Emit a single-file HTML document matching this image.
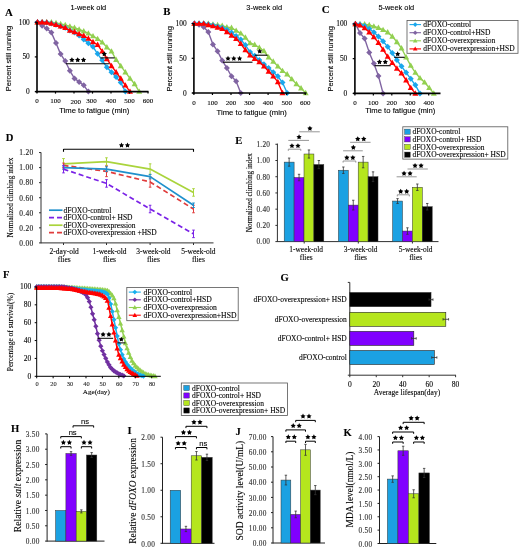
<!DOCTYPE html>
<html><head><meta charset="utf-8"><style>
html,body{margin:0;padding:0;background:#fff;width:520px;height:549px;overflow:hidden}
svg{display:block;filter:blur(0.3px)}
text{stroke:#000;stroke-width:0.18px;stroke-opacity:0.55}
</style></head><body>
<svg width="520" height="549" viewBox="0 0 520 549">
<rect width="520" height="549" fill="#fff"/>
<polyline points="37.5,22.2 42.12,22.2 46.75,22.2 51.38,22.2 56,22.89 60.62,23.94 65.25,24.98 69.88,26.36 74.5,27.75 79.12,29.49 83.75,31.22 88.38,33.3 93,36.08 97.62,38.86 102.25,42.33 106.88,47.18 111.5,51.35 116.12,59.68 120.75,65.92 125.38,72.17 130,78.41 134.62,83.97 139.25,91.6" stroke="#92d050" stroke-width="1.4" fill="none" stroke-linejoin="round"/>
<polygon points="37.5,19.05 40.5,24.45 34.5,24.45" fill="#92d050"/>
<polygon points="42.12,19.05 45.12,24.45 39.12,24.45" fill="#92d050"/>
<polygon points="46.75,19.05 49.75,24.45 43.75,24.45" fill="#92d050"/>
<polygon points="51.38,19.05 54.38,24.45 48.38,24.45" fill="#92d050"/>
<polygon points="56,19.74 59,25.14 53,25.14" fill="#92d050"/>
<polygon points="60.62,20.79 63.62,26.19 57.62,26.19" fill="#92d050"/>
<polygon points="65.25,21.83 68.25,27.23 62.25,27.23" fill="#92d050"/>
<polygon points="69.88,23.21 72.88,28.61 66.88,28.61" fill="#92d050"/>
<polygon points="74.5,24.6 77.5,30 71.5,30" fill="#92d050"/>
<polygon points="79.12,26.34 82.12,31.74 76.12,31.74" fill="#92d050"/>
<polygon points="83.75,28.07 86.75,33.47 80.75,33.47" fill="#92d050"/>
<polygon points="88.38,30.15 91.38,35.55 85.38,35.55" fill="#92d050"/>
<polygon points="93,32.93 96,38.33 90,38.33" fill="#92d050"/>
<polygon points="97.62,35.71 100.62,41.11 94.62,41.11" fill="#92d050"/>
<polygon points="102.25,39.18 105.25,44.58 99.25,44.58" fill="#92d050"/>
<polygon points="106.88,44.03 109.88,49.43 103.88,49.43" fill="#92d050"/>
<polygon points="111.5,48.2 114.5,53.6 108.5,53.6" fill="#92d050"/>
<polygon points="116.12,56.53 119.12,61.93 113.12,61.93" fill="#92d050"/>
<polygon points="120.75,62.77 123.75,68.17 117.75,68.17" fill="#92d050"/>
<polygon points="125.38,69.02 128.38,74.42 122.38,74.42" fill="#92d050"/>
<polygon points="130,75.26 133,80.66 127,80.66" fill="#92d050"/>
<polygon points="134.62,80.82 137.62,86.22 131.62,86.22" fill="#92d050"/>
<polygon points="139.25,88.45 142.25,93.85 136.25,93.85" fill="#92d050"/>
<polyline points="37.5,22.2 42.12,22.2 46.75,22.48 51.38,23.59 56,24.63 60.62,26.36 65.25,27.75 69.88,30.53 74.5,32.61 79.12,35.39 83.75,39.55 88.38,43.37 93,46.84 97.62,53.78 102.25,60.37 106.88,67.31 111.5,72.17 116.12,77.03 120.75,82.58 125.38,91.6" stroke="#1aa7ec" stroke-width="1.4" fill="none" stroke-linejoin="round"/>
<polygon points="37.5,19.2 40.5,22.2 37.5,25.2 34.5,22.2" fill="#1aa7ec"/>
<polygon points="42.12,19.2 45.12,22.2 42.12,25.2 39.12,22.2" fill="#1aa7ec"/>
<polygon points="46.75,19.48 49.75,22.48 46.75,25.48 43.75,22.48" fill="#1aa7ec"/>
<polygon points="51.38,20.59 54.38,23.59 51.38,26.59 48.38,23.59" fill="#1aa7ec"/>
<polygon points="56,21.63 59,24.63 56,27.63 53,24.63" fill="#1aa7ec"/>
<polygon points="60.62,23.36 63.62,26.36 60.62,29.36 57.62,26.36" fill="#1aa7ec"/>
<polygon points="65.25,24.75 68.25,27.75 65.25,30.75 62.25,27.75" fill="#1aa7ec"/>
<polygon points="69.88,27.53 72.88,30.53 69.88,33.53 66.88,30.53" fill="#1aa7ec"/>
<polygon points="74.5,29.61 77.5,32.61 74.5,35.61 71.5,32.61" fill="#1aa7ec"/>
<polygon points="79.12,32.39 82.12,35.39 79.12,38.39 76.12,35.39" fill="#1aa7ec"/>
<polygon points="83.75,36.55 86.75,39.55 83.75,42.55 80.75,39.55" fill="#1aa7ec"/>
<polygon points="88.38,40.37 91.38,43.37 88.38,46.37 85.38,43.37" fill="#1aa7ec"/>
<polygon points="93,43.84 96,46.84 93,49.84 90,46.84" fill="#1aa7ec"/>
<polygon points="97.62,50.78 100.62,53.78 97.62,56.78 94.62,53.78" fill="#1aa7ec"/>
<polygon points="102.25,57.37 105.25,60.37 102.25,63.37 99.25,60.37" fill="#1aa7ec"/>
<polygon points="106.88,64.31 109.88,67.31 106.88,70.31 103.88,67.31" fill="#1aa7ec"/>
<polygon points="111.5,69.17 114.5,72.17 111.5,75.17 108.5,72.17" fill="#1aa7ec"/>
<polygon points="116.12,74.03 119.12,77.03 116.12,80.03 113.12,77.03" fill="#1aa7ec"/>
<polygon points="120.75,79.58 123.75,82.58 120.75,85.58 117.75,82.58" fill="#1aa7ec"/>
<polygon points="125.38,88.6 128.38,91.6 125.38,94.6 122.38,91.6" fill="#1aa7ec"/>
<polyline points="37.5,22.2 42.12,25.67 46.75,28.45 51.38,32.61 56,43.02 60.62,54.12 65.25,61.06 69.88,70.78 74.5,78.41 79.12,81.88 83.75,85.35 88.38,91.6" stroke="#8064a2" stroke-width="1.4" fill="none" stroke-linejoin="round"/>
<polygon points="37.5,19.2 40.5,22.2 37.5,25.2 34.5,22.2" fill="#8064a2"/>
<polygon points="42.12,22.67 45.12,25.67 42.12,28.67 39.12,25.67" fill="#8064a2"/>
<polygon points="46.75,25.45 49.75,28.45 46.75,31.45 43.75,28.45" fill="#8064a2"/>
<polygon points="51.38,29.61 54.38,32.61 51.38,35.61 48.38,32.61" fill="#8064a2"/>
<polygon points="56,40.02 59,43.02 56,46.02 53,43.02" fill="#8064a2"/>
<polygon points="60.62,51.12 63.62,54.12 60.62,57.12 57.62,54.12" fill="#8064a2"/>
<polygon points="65.25,58.06 68.25,61.06 65.25,64.06 62.25,61.06" fill="#8064a2"/>
<polygon points="69.88,67.78 72.88,70.78 69.88,73.78 66.88,70.78" fill="#8064a2"/>
<polygon points="74.5,75.41 77.5,78.41 74.5,81.41 71.5,78.41" fill="#8064a2"/>
<polygon points="79.12,78.88 82.12,81.88 79.12,84.88 76.12,81.88" fill="#8064a2"/>
<polygon points="83.75,82.35 86.75,85.35 83.75,88.35 80.75,85.35" fill="#8064a2"/>
<polygon points="88.38,88.6 91.38,91.6 88.38,94.6 85.38,91.6" fill="#8064a2"/>
<polyline points="37.5,22.2 42.12,22.2 46.75,22.48 51.38,23.59 56,24.63 60.62,26.36 65.25,27.75 69.88,30.53 74.5,31.92 79.12,34 83.75,35.73 88.38,38.51 93,41.98 97.62,44.75 102.25,51.35 106.88,58.98 111.5,65.92 116.12,72.17 120.75,78.41 125.38,85.35 130,91.6" stroke="#ff0000" stroke-width="1.4" fill="none" stroke-linejoin="round"/>
<polygon points="37.5,19.05 40.5,24.45 34.5,24.45" fill="#ff0000"/>
<polygon points="42.12,19.05 45.12,24.45 39.12,24.45" fill="#ff0000"/>
<polygon points="46.75,19.33 49.75,24.73 43.75,24.73" fill="#ff0000"/>
<polygon points="51.38,20.44 54.38,25.84 48.38,25.84" fill="#ff0000"/>
<polygon points="56,21.48 59,26.88 53,26.88" fill="#ff0000"/>
<polygon points="60.62,23.21 63.62,28.61 57.62,28.61" fill="#ff0000"/>
<polygon points="65.25,24.6 68.25,30 62.25,30" fill="#ff0000"/>
<polygon points="69.88,27.38 72.88,32.78 66.88,32.78" fill="#ff0000"/>
<polygon points="74.5,28.77 77.5,34.17 71.5,34.17" fill="#ff0000"/>
<polygon points="79.12,30.85 82.12,36.25 76.12,36.25" fill="#ff0000"/>
<polygon points="83.75,32.58 86.75,37.98 80.75,37.98" fill="#ff0000"/>
<polygon points="88.38,35.36 91.38,40.76 85.38,40.76" fill="#ff0000"/>
<polygon points="93,38.83 96,44.23 90,44.23" fill="#ff0000"/>
<polygon points="97.62,41.6 100.62,47 94.62,47" fill="#ff0000"/>
<polygon points="102.25,48.2 105.25,53.6 99.25,53.6" fill="#ff0000"/>
<polygon points="106.88,55.83 109.88,61.23 103.88,61.23" fill="#ff0000"/>
<polygon points="111.5,62.77 114.5,68.17 108.5,68.17" fill="#ff0000"/>
<polygon points="116.12,69.02 119.12,74.42 113.12,74.42" fill="#ff0000"/>
<polygon points="120.75,75.26 123.75,80.66 117.75,80.66" fill="#ff0000"/>
<polygon points="125.38,82.2 128.38,87.6 122.38,87.6" fill="#ff0000"/>
<polygon points="130,88.45 133,93.85 127,93.85" fill="#ff0000"/>
<line x1="37" y1="21.7" x2="37" y2="92.4" stroke="#000" stroke-width="1.6"/>
<line x1="35.5" y1="91.6" x2="148.5" y2="91.6" stroke="#000" stroke-width="1.6"/>
<line x1="34.8" y1="22.2" x2="37" y2="22.2" stroke="#000" stroke-width="1.2"/>
<text x="29.8" y="24.7" font-size="7.4" font-family='"Liberation Serif", serif' fill="#000" text-anchor="end">100</text>
<line x1="34.8" y1="56.9" x2="37" y2="56.9" stroke="#000" stroke-width="1.2"/>
<text x="29.8" y="59.4" font-size="7.4" font-family='"Liberation Serif", serif' fill="#000" text-anchor="end">50</text>
<line x1="34.8" y1="91.6" x2="37" y2="91.6" stroke="#000" stroke-width="1.2"/>
<text x="29.8" y="94.1" font-size="7.4" font-family='"Liberation Serif", serif' fill="#000" text-anchor="end">0</text>
<line x1="37" y1="91.6" x2="37" y2="93.6" stroke="#000" stroke-width="1.2"/>
<text x="37" y="103.1" font-size="7" font-family='"Liberation Serif", serif' fill="#000" text-anchor="middle">0</text>
<line x1="55.5" y1="91.6" x2="55.5" y2="93.6" stroke="#000" stroke-width="1.2"/>
<text x="55.5" y="103.1" font-size="7" font-family='"Liberation Serif", serif' fill="#000" text-anchor="middle">100</text>
<line x1="74" y1="91.6" x2="74" y2="93.6" stroke="#000" stroke-width="1.2"/>
<text x="75.8" y="103.7" font-size="7" font-family='"Liberation Serif", serif' fill="#000" text-anchor="middle">200</text>
<line x1="92.5" y1="91.6" x2="92.5" y2="93.6" stroke="#000" stroke-width="1.2"/>
<text x="91.5" y="103.1" font-size="7" font-family='"Liberation Serif", serif' fill="#000" text-anchor="middle">300</text>
<line x1="111" y1="91.6" x2="111" y2="93.6" stroke="#000" stroke-width="1.2"/>
<text x="111" y="103.1" font-size="7" font-family='"Liberation Serif", serif' fill="#000" text-anchor="middle">400</text>
<line x1="129.5" y1="91.6" x2="129.5" y2="93.6" stroke="#000" stroke-width="1.2"/>
<text x="129.5" y="103.1" font-size="7" font-family='"Liberation Serif", serif' fill="#000" text-anchor="middle">500</text>
<line x1="148" y1="91.6" x2="148" y2="93.6" stroke="#000" stroke-width="1.2"/>
<text x="148" y="103.1" font-size="7" font-family='"Liberation Serif", serif' fill="#000" text-anchor="middle">600</text>
<text x="94.25" y="113" font-size="7.7" font-family='"Liberation Sans", sans-serif' fill="#000" text-anchor="middle">Time to fatigue (min)</text>
<text x="10.6" y="58.5" font-size="7.45" font-family='"Liberation Sans", sans-serif' fill="#000" text-anchor="middle" transform="rotate(-90 10.6 58.5)">Percent still running</text>
<text x="4.9" y="15.7" font-size="10.8" font-family='"Liberation Serif", serif' fill="#000" font-weight="bold">A</text>
<text x="88.3" y="9.9" font-size="7.4" font-family='"Liberation Sans", sans-serif' fill="#000" text-anchor="middle">1-week old</text>
<line x1="65.8" y1="63.8" x2="109.4" y2="63.8" stroke="#000" stroke-width="1.1"/>
<polygon points="71.9,57.25 72.74,58.84 74.52,59.15 73.26,60.44 73.52,62.22 71.9,61.43 70.28,62.22 70.54,60.44 69.28,59.15 71.06,58.84" fill="#000"/>
<polygon points="77.7,57.25 78.54,58.84 80.32,59.15 79.06,60.44 79.32,62.22 77.7,61.43 76.08,62.22 76.34,60.44 75.08,59.15 76.86,58.84" fill="#000"/>
<polygon points="83.5,57.25 84.34,58.84 86.12,59.15 84.86,60.44 85.12,62.22 83.5,61.43 81.88,62.22 82.14,60.44 80.88,59.15 82.66,58.84" fill="#000"/>
<line x1="100.5" y1="57.9" x2="114.7" y2="57.9" stroke="#000" stroke-width="1.1"/>
<polygon points="104.3,51.25 105.14,52.84 106.92,53.15 105.66,54.44 105.92,56.22 104.3,55.43 102.68,56.22 102.94,54.44 101.68,53.15 103.46,52.84" fill="#000"/>
<polyline points="194.4,23.6 199.04,23.6 203.68,23.6 208.31,23.6 212.95,24.29 217.59,24.99 222.22,25.68 226.86,27.07 231.5,27.76 236.14,30.54 240.78,33.32 245.41,37.48 250.05,43.03 254.69,44.77 259.32,47.54 263.96,51.01 268.6,57.26 273.24,61.42 277.88,66.28 282.51,70.79 287.15,74.26 291.79,79.12 296.43,83.98 301.06,88.14 305.7,93" stroke="#92d050" stroke-width="1.4" fill="none" stroke-linejoin="round"/>
<polygon points="194.4,20.45 197.4,25.85 191.4,25.85" fill="#92d050"/>
<polygon points="199.04,20.45 202.04,25.85 196.04,25.85" fill="#92d050"/>
<polygon points="203.68,20.45 206.68,25.85 200.68,25.85" fill="#92d050"/>
<polygon points="208.31,20.45 211.31,25.85 205.31,25.85" fill="#92d050"/>
<polygon points="212.95,21.14 215.95,26.54 209.95,26.54" fill="#92d050"/>
<polygon points="217.59,21.84 220.59,27.24 214.59,27.24" fill="#92d050"/>
<polygon points="222.22,22.53 225.22,27.93 219.22,27.93" fill="#92d050"/>
<polygon points="226.86,23.92 229.86,29.32 223.86,29.32" fill="#92d050"/>
<polygon points="231.5,24.61 234.5,30.01 228.5,30.01" fill="#92d050"/>
<polygon points="236.14,27.39 239.14,32.79 233.14,32.79" fill="#92d050"/>
<polygon points="240.78,30.17 243.78,35.57 237.78,35.57" fill="#92d050"/>
<polygon points="245.41,34.33 248.41,39.73 242.41,39.73" fill="#92d050"/>
<polygon points="250.05,39.88 253.05,45.28 247.05,45.28" fill="#92d050"/>
<polygon points="254.69,41.62 257.69,47.02 251.69,47.02" fill="#92d050"/>
<polygon points="259.32,44.39 262.32,49.79 256.32,49.79" fill="#92d050"/>
<polygon points="263.96,47.86 266.96,53.26 260.96,53.26" fill="#92d050"/>
<polygon points="268.6,54.11 271.6,59.51 265.6,59.51" fill="#92d050"/>
<polygon points="273.24,58.27 276.24,63.67 270.24,63.67" fill="#92d050"/>
<polygon points="277.88,63.13 280.88,68.53 274.88,68.53" fill="#92d050"/>
<polygon points="282.51,67.64 285.51,73.04 279.51,73.04" fill="#92d050"/>
<polygon points="287.15,71.11 290.15,76.51 284.15,76.51" fill="#92d050"/>
<polygon points="291.79,75.97 294.79,81.37 288.79,81.37" fill="#92d050"/>
<polygon points="296.43,80.83 299.43,86.23 293.43,86.23" fill="#92d050"/>
<polygon points="301.06,84.99 304.06,90.39 298.06,90.39" fill="#92d050"/>
<polygon points="305.7,89.85 308.7,95.25 302.7,95.25" fill="#92d050"/>
<polyline points="194.4,23.6 199.04,23.6 203.68,23.6 208.31,24.29 212.95,25.33 217.59,26.38 222.22,27.76 226.86,29.85 231.5,32.62 236.14,36.09 240.78,39.56 245.41,45.11 250.05,52.05 254.69,55.87 259.32,60.03 263.96,64.2 268.6,68.02 273.24,72.18 277.88,76.34 282.51,82.59 287.15,93" stroke="#1aa7ec" stroke-width="1.4" fill="none" stroke-linejoin="round"/>
<polygon points="194.4,20.6 197.4,23.6 194.4,26.6 191.4,23.6" fill="#1aa7ec"/>
<polygon points="199.04,20.6 202.04,23.6 199.04,26.6 196.04,23.6" fill="#1aa7ec"/>
<polygon points="203.68,20.6 206.68,23.6 203.68,26.6 200.68,23.6" fill="#1aa7ec"/>
<polygon points="208.31,21.29 211.31,24.29 208.31,27.29 205.31,24.29" fill="#1aa7ec"/>
<polygon points="212.95,22.33 215.95,25.33 212.95,28.33 209.95,25.33" fill="#1aa7ec"/>
<polygon points="217.59,23.38 220.59,26.38 217.59,29.38 214.59,26.38" fill="#1aa7ec"/>
<polygon points="222.22,24.76 225.22,27.76 222.22,30.76 219.22,27.76" fill="#1aa7ec"/>
<polygon points="226.86,26.85 229.86,29.85 226.86,32.85 223.86,29.85" fill="#1aa7ec"/>
<polygon points="231.5,29.62 234.5,32.62 231.5,35.62 228.5,32.62" fill="#1aa7ec"/>
<polygon points="236.14,33.09 239.14,36.09 236.14,39.09 233.14,36.09" fill="#1aa7ec"/>
<polygon points="240.78,36.56 243.78,39.56 240.78,42.56 237.78,39.56" fill="#1aa7ec"/>
<polygon points="245.41,42.11 248.41,45.11 245.41,48.11 242.41,45.11" fill="#1aa7ec"/>
<polygon points="250.05,49.05 253.05,52.05 250.05,55.05 247.05,52.05" fill="#1aa7ec"/>
<polygon points="254.69,52.87 257.69,55.87 254.69,58.87 251.69,55.87" fill="#1aa7ec"/>
<polygon points="259.32,57.03 262.32,60.03 259.32,63.03 256.32,60.03" fill="#1aa7ec"/>
<polygon points="263.96,61.2 266.96,64.2 263.96,67.2 260.96,64.2" fill="#1aa7ec"/>
<polygon points="268.6,65.02 271.6,68.02 268.6,71.02 265.6,68.02" fill="#1aa7ec"/>
<polygon points="273.24,69.18 276.24,72.18 273.24,75.18 270.24,72.18" fill="#1aa7ec"/>
<polygon points="277.88,73.34 280.88,76.34 277.88,79.34 274.88,76.34" fill="#1aa7ec"/>
<polygon points="282.51,79.59 285.51,82.59 282.51,85.59 279.51,82.59" fill="#1aa7ec"/>
<polygon points="287.15,90 290.15,93 287.15,96 284.15,93" fill="#1aa7ec"/>
<polyline points="194.4,23.6 199.04,24.64 203.68,27.07 208.31,31.93 212.95,44.42 217.59,51.36 222.22,60.38 226.86,68.02 231.5,76.34 236.14,81.2 240.78,93" stroke="#8064a2" stroke-width="1.4" fill="none" stroke-linejoin="round"/>
<polygon points="194.4,20.6 197.4,23.6 194.4,26.6 191.4,23.6" fill="#8064a2"/>
<polygon points="199.04,21.64 202.04,24.64 199.04,27.64 196.04,24.64" fill="#8064a2"/>
<polygon points="203.68,24.07 206.68,27.07 203.68,30.07 200.68,27.07" fill="#8064a2"/>
<polygon points="208.31,28.93 211.31,31.93 208.31,34.93 205.31,31.93" fill="#8064a2"/>
<polygon points="212.95,41.42 215.95,44.42 212.95,47.42 209.95,44.42" fill="#8064a2"/>
<polygon points="217.59,48.36 220.59,51.36 217.59,54.36 214.59,51.36" fill="#8064a2"/>
<polygon points="222.22,57.38 225.22,60.38 222.22,63.38 219.22,60.38" fill="#8064a2"/>
<polygon points="226.86,65.02 229.86,68.02 226.86,71.02 223.86,68.02" fill="#8064a2"/>
<polygon points="231.5,73.34 234.5,76.34 231.5,79.34 228.5,76.34" fill="#8064a2"/>
<polygon points="236.14,78.2 239.14,81.2 236.14,84.2 233.14,81.2" fill="#8064a2"/>
<polygon points="240.78,90 243.78,93 240.78,96 237.78,93" fill="#8064a2"/>
<polyline points="194.4,23.6 199.04,23.6 203.68,23.6 208.31,24.99 212.95,26.03 217.59,27.42 222.22,28.8 226.86,31.93 231.5,35.4 236.14,38.87 240.78,43.73 245.41,49.97 250.05,55.18 254.69,58.65 259.32,62.12 263.96,66.28 268.6,71.49 273.24,76.34 277.88,81.9 282.51,93" stroke="#ff0000" stroke-width="1.4" fill="none" stroke-linejoin="round"/>
<polygon points="194.4,20.45 197.4,25.85 191.4,25.85" fill="#ff0000"/>
<polygon points="199.04,20.45 202.04,25.85 196.04,25.85" fill="#ff0000"/>
<polygon points="203.68,20.45 206.68,25.85 200.68,25.85" fill="#ff0000"/>
<polygon points="208.31,21.84 211.31,27.24 205.31,27.24" fill="#ff0000"/>
<polygon points="212.95,22.88 215.95,28.28 209.95,28.28" fill="#ff0000"/>
<polygon points="217.59,24.27 220.59,29.67 214.59,29.67" fill="#ff0000"/>
<polygon points="222.22,25.65 225.22,31.05 219.22,31.05" fill="#ff0000"/>
<polygon points="226.86,28.78 229.86,34.18 223.86,34.18" fill="#ff0000"/>
<polygon points="231.5,32.25 234.5,37.65 228.5,37.65" fill="#ff0000"/>
<polygon points="236.14,35.72 239.14,41.12 233.14,41.12" fill="#ff0000"/>
<polygon points="240.78,40.58 243.78,45.98 237.78,45.98" fill="#ff0000"/>
<polygon points="245.41,46.82 248.41,52.22 242.41,52.22" fill="#ff0000"/>
<polygon points="250.05,52.03 253.05,57.43 247.05,57.43" fill="#ff0000"/>
<polygon points="254.69,55.5 257.69,60.9 251.69,60.9" fill="#ff0000"/>
<polygon points="259.32,58.97 262.32,64.37 256.32,64.37" fill="#ff0000"/>
<polygon points="263.96,63.13 266.96,68.53 260.96,68.53" fill="#ff0000"/>
<polygon points="268.6,68.34 271.6,73.74 265.6,73.74" fill="#ff0000"/>
<polygon points="273.24,73.19 276.24,78.59 270.24,78.59" fill="#ff0000"/>
<polygon points="277.88,78.75 280.88,84.15 274.88,84.15" fill="#ff0000"/>
<polygon points="282.51,89.85 285.51,95.25 279.51,95.25" fill="#ff0000"/>
<line x1="193.9" y1="23.1" x2="193.9" y2="93.8" stroke="#000" stroke-width="1.6"/>
<line x1="192.4" y1="93" x2="306.5" y2="93" stroke="#000" stroke-width="1.6"/>
<line x1="191.7" y1="23.6" x2="193.9" y2="23.6" stroke="#000" stroke-width="1.2"/>
<text x="186.7" y="26.1" font-size="7.4" font-family='"Liberation Serif", serif' fill="#000" text-anchor="end">100</text>
<line x1="191.7" y1="58.3" x2="193.9" y2="58.3" stroke="#000" stroke-width="1.2"/>
<text x="186.7" y="60.8" font-size="7.4" font-family='"Liberation Serif", serif' fill="#000" text-anchor="end">50</text>
<line x1="191.7" y1="93" x2="193.9" y2="93" stroke="#000" stroke-width="1.2"/>
<text x="186.7" y="95.5" font-size="7.4" font-family='"Liberation Serif", serif' fill="#000" text-anchor="end">0</text>
<line x1="193.9" y1="93" x2="193.9" y2="95" stroke="#000" stroke-width="1.2"/>
<text x="193.9" y="104.6" font-size="7" font-family='"Liberation Serif", serif' fill="#000" text-anchor="middle">0</text>
<line x1="212.45" y1="93" x2="212.45" y2="95" stroke="#000" stroke-width="1.2"/>
<text x="212.45" y="104.6" font-size="7" font-family='"Liberation Serif", serif' fill="#000" text-anchor="middle">100</text>
<line x1="231" y1="93" x2="231" y2="95" stroke="#000" stroke-width="1.2"/>
<text x="231" y="104.6" font-size="7" font-family='"Liberation Serif", serif' fill="#000" text-anchor="middle">200</text>
<line x1="249.55" y1="93" x2="249.55" y2="95" stroke="#000" stroke-width="1.2"/>
<text x="249.55" y="104.6" font-size="7" font-family='"Liberation Serif", serif' fill="#000" text-anchor="middle">300</text>
<line x1="268.1" y1="93" x2="268.1" y2="95" stroke="#000" stroke-width="1.2"/>
<text x="268.1" y="104.6" font-size="7" font-family='"Liberation Serif", serif' fill="#000" text-anchor="middle">400</text>
<line x1="286.65" y1="93" x2="286.65" y2="95" stroke="#000" stroke-width="1.2"/>
<text x="286.65" y="104.6" font-size="7" font-family='"Liberation Serif", serif' fill="#000" text-anchor="middle">500</text>
<line x1="305.2" y1="93" x2="305.2" y2="95" stroke="#000" stroke-width="1.2"/>
<text x="305.2" y="104.6" font-size="7" font-family='"Liberation Serif", serif' fill="#000" text-anchor="middle">600</text>
<text x="251.7" y="115.2" font-size="7.7" font-family='"Liberation Sans", sans-serif' fill="#000" text-anchor="middle">Time to fatigue (min)</text>
<text x="171.8" y="58.8" font-size="7.45" font-family='"Liberation Sans", sans-serif' fill="#000" text-anchor="middle" transform="rotate(-90 171.8 58.8)">Percent still running</text>
<text x="163.3" y="14.8" font-size="10.8" font-family='"Liberation Serif", serif' fill="#000" font-weight="bold">B</text>
<text x="264.2" y="9.9" font-size="7.4" font-family='"Liberation Sans", sans-serif' fill="#000" text-anchor="middle">3-week old</text>
<line x1="223" y1="62.2" x2="252.5" y2="62.2" stroke="#000" stroke-width="1.1"/>
<polygon points="228,55.85 228.84,57.44 230.62,57.75 229.36,59.04 229.62,60.82 228,60.03 226.38,60.82 226.64,59.04 225.38,57.75 227.16,57.44" fill="#000"/>
<polygon points="233.8,55.85 234.64,57.44 236.42,57.75 235.16,59.04 235.42,60.82 233.8,60.03 232.18,60.82 232.44,59.04 231.18,57.75 232.96,57.44" fill="#000"/>
<polygon points="239.6,55.85 240.44,57.44 242.22,57.75 240.96,59.04 241.22,60.82 239.6,60.03 237.98,60.82 238.24,59.04 236.98,57.75 238.76,57.44" fill="#000"/>
<line x1="254.8" y1="55.2" x2="267.5" y2="55.2" stroke="#000" stroke-width="1.1"/>
<polygon points="259.7,48.65 260.54,50.24 262.32,50.55 261.06,51.84 261.32,53.62 259.7,52.83 258.08,53.62 258.34,51.84 257.08,50.55 258.86,50.24" fill="#000"/>
<polyline points="355.4,23.9 360.01,23.9 364.62,24.25 369.24,24.94 373.85,26.33 378.46,27.72 383.07,29.81 387.69,32.24 392.3,36.41 396.91,41.97 401.52,48.23 406.14,57.26 410.75,65.6 415.36,72.55 419.97,78.11 424.59,82.28 429.2,87.84 433.81,93.4" stroke="#92d050" stroke-width="1.4" fill="none" stroke-linejoin="round"/>
<polygon points="355.4,20.75 358.4,26.15 352.4,26.15" fill="#92d050"/>
<polygon points="360.01,20.75 363.01,26.15 357.01,26.15" fill="#92d050"/>
<polygon points="364.62,21.1 367.62,26.5 361.62,26.5" fill="#92d050"/>
<polygon points="369.24,21.79 372.24,27.19 366.24,27.19" fill="#92d050"/>
<polygon points="373.85,23.18 376.85,28.58 370.85,28.58" fill="#92d050"/>
<polygon points="378.46,24.57 381.46,29.97 375.46,29.97" fill="#92d050"/>
<polygon points="383.07,26.66 386.07,32.06 380.07,32.06" fill="#92d050"/>
<polygon points="387.69,29.09 390.69,34.49 384.69,34.49" fill="#92d050"/>
<polygon points="392.3,33.26 395.3,38.66 389.3,38.66" fill="#92d050"/>
<polygon points="396.91,38.82 399.91,44.22 393.91,44.22" fill="#92d050"/>
<polygon points="401.52,45.08 404.52,50.48 398.52,50.48" fill="#92d050"/>
<polygon points="406.14,54.11 409.14,59.51 403.14,59.51" fill="#92d050"/>
<polygon points="410.75,62.45 413.75,67.85 407.75,67.85" fill="#92d050"/>
<polygon points="415.36,69.4 418.36,74.8 412.36,74.8" fill="#92d050"/>
<polygon points="419.97,74.96 422.97,80.36 416.97,80.36" fill="#92d050"/>
<polygon points="424.59,79.13 427.59,84.53 421.59,84.53" fill="#92d050"/>
<polygon points="429.2,84.69 432.2,90.09 426.2,90.09" fill="#92d050"/>
<polygon points="433.81,90.25 436.81,95.65 430.81,95.65" fill="#92d050"/>
<polyline points="355.4,23.9 360.01,24.6 364.62,25.99 369.24,28.77 373.85,32.24 378.46,36.41 383.07,41.28 387.69,46.84 392.3,53.09 396.91,60.04 401.52,66.3 406.14,72.55 410.75,78.81 415.36,85.06 419.97,93.4" stroke="#1aa7ec" stroke-width="1.4" fill="none" stroke-linejoin="round"/>
<polygon points="355.4,20.9 358.4,23.9 355.4,26.9 352.4,23.9" fill="#1aa7ec"/>
<polygon points="360.01,21.6 363.01,24.6 360.01,27.6 357.01,24.6" fill="#1aa7ec"/>
<polygon points="364.62,22.99 367.62,25.99 364.62,28.99 361.62,25.99" fill="#1aa7ec"/>
<polygon points="369.24,25.77 372.24,28.77 369.24,31.77 366.24,28.77" fill="#1aa7ec"/>
<polygon points="373.85,29.24 376.85,32.24 373.85,35.24 370.85,32.24" fill="#1aa7ec"/>
<polygon points="378.46,33.41 381.46,36.41 378.46,39.41 375.46,36.41" fill="#1aa7ec"/>
<polygon points="383.07,38.28 386.07,41.28 383.07,44.28 380.07,41.28" fill="#1aa7ec"/>
<polygon points="387.69,43.84 390.69,46.84 387.69,49.84 384.69,46.84" fill="#1aa7ec"/>
<polygon points="392.3,50.09 395.3,53.09 392.3,56.09 389.3,53.09" fill="#1aa7ec"/>
<polygon points="396.91,57.04 399.91,60.04 396.91,63.04 393.91,60.04" fill="#1aa7ec"/>
<polygon points="401.52,63.3 404.52,66.3 401.52,69.3 398.52,66.3" fill="#1aa7ec"/>
<polygon points="406.14,69.55 409.14,72.55 406.14,75.55 403.14,72.55" fill="#1aa7ec"/>
<polygon points="410.75,75.81 413.75,78.81 410.75,81.81 407.75,78.81" fill="#1aa7ec"/>
<polygon points="415.36,82.06 418.36,85.06 415.36,88.06 412.36,85.06" fill="#1aa7ec"/>
<polygon points="419.97,90.4 422.97,93.4 419.97,96.4 416.97,93.4" fill="#1aa7ec"/>
<polyline points="355.4,23.9 360.01,32.94 364.62,38.5 369.24,52.4 373.85,63.52 378.46,76.03 383.07,93.4" stroke="#8064a2" stroke-width="1.4" fill="none" stroke-linejoin="round"/>
<polygon points="355.4,20.9 358.4,23.9 355.4,26.9 352.4,23.9" fill="#8064a2"/>
<polygon points="360.01,29.94 363.01,32.94 360.01,35.94 357.01,32.94" fill="#8064a2"/>
<polygon points="364.62,35.5 367.62,38.5 364.62,41.5 361.62,38.5" fill="#8064a2"/>
<polygon points="369.24,49.4 372.24,52.4 369.24,55.4 366.24,52.4" fill="#8064a2"/>
<polygon points="373.85,60.52 376.85,63.52 373.85,66.52 370.85,63.52" fill="#8064a2"/>
<polygon points="378.46,73.03 381.46,76.03 378.46,79.03 375.46,76.03" fill="#8064a2"/>
<polygon points="383.07,90.4 386.07,93.4 383.07,96.4 380.07,93.4" fill="#8064a2"/>
<polyline points="355.4,23.9 360.01,25.29 364.62,28.07 369.24,32.24 373.85,37.11 378.46,42.67 383.07,49.62 387.69,56.57 392.3,62.82 396.91,68.38 401.52,73.25 406.14,80.2 410.75,87.84 415.36,93.4" stroke="#ff0000" stroke-width="1.4" fill="none" stroke-linejoin="round"/>
<polygon points="355.4,20.75 358.4,26.15 352.4,26.15" fill="#ff0000"/>
<polygon points="360.01,22.14 363.01,27.54 357.01,27.54" fill="#ff0000"/>
<polygon points="364.62,24.92 367.62,30.32 361.62,30.32" fill="#ff0000"/>
<polygon points="369.24,29.09 372.24,34.49 366.24,34.49" fill="#ff0000"/>
<polygon points="373.85,33.96 376.85,39.36 370.85,39.36" fill="#ff0000"/>
<polygon points="378.46,39.52 381.46,44.92 375.46,44.92" fill="#ff0000"/>
<polygon points="383.07,46.47 386.07,51.87 380.07,51.87" fill="#ff0000"/>
<polygon points="387.69,53.42 390.69,58.82 384.69,58.82" fill="#ff0000"/>
<polygon points="392.3,59.67 395.3,65.07 389.3,65.07" fill="#ff0000"/>
<polygon points="396.91,65.23 399.91,70.63 393.91,70.63" fill="#ff0000"/>
<polygon points="401.52,70.09 404.52,75.5 398.52,75.5" fill="#ff0000"/>
<polygon points="406.14,77.05 409.14,82.45 403.14,82.45" fill="#ff0000"/>
<polygon points="410.75,84.69 413.75,90.09 407.75,90.09" fill="#ff0000"/>
<polygon points="415.36,90.25 418.36,95.65 412.36,95.65" fill="#ff0000"/>
<line x1="354.9" y1="23.4" x2="354.9" y2="94.2" stroke="#000" stroke-width="1.6"/>
<line x1="353.4" y1="93.4" x2="440.5" y2="93.4" stroke="#000" stroke-width="1.6"/>
<line x1="352.7" y1="23.9" x2="354.9" y2="23.9" stroke="#000" stroke-width="1.2"/>
<text x="347.3" y="26.4" font-size="7.4" font-family='"Liberation Serif", serif' fill="#000" text-anchor="end">100</text>
<line x1="352.7" y1="58.65" x2="354.9" y2="58.65" stroke="#000" stroke-width="1.2"/>
<text x="347.3" y="61.15" font-size="7.4" font-family='"Liberation Serif", serif' fill="#000" text-anchor="end">50</text>
<line x1="352.7" y1="93.4" x2="354.9" y2="93.4" stroke="#000" stroke-width="1.2"/>
<text x="347.3" y="95.9" font-size="7.4" font-family='"Liberation Serif", serif' fill="#000" text-anchor="end">0</text>
<line x1="354.9" y1="93.4" x2="354.9" y2="95.4" stroke="#000" stroke-width="1.2"/>
<text x="354.9" y="104.9" font-size="7" font-family='"Liberation Serif", serif' fill="#000" text-anchor="middle">0</text>
<line x1="373.35" y1="93.4" x2="373.35" y2="95.4" stroke="#000" stroke-width="1.2"/>
<text x="373.35" y="104.9" font-size="7" font-family='"Liberation Serif", serif' fill="#000" text-anchor="middle">100</text>
<line x1="391.8" y1="93.4" x2="391.8" y2="95.4" stroke="#000" stroke-width="1.2"/>
<text x="391.8" y="104.9" font-size="7" font-family='"Liberation Serif", serif' fill="#000" text-anchor="middle">200</text>
<line x1="410.25" y1="93.4" x2="410.25" y2="95.4" stroke="#000" stroke-width="1.2"/>
<text x="410.25" y="104.9" font-size="7" font-family='"Liberation Serif", serif' fill="#000" text-anchor="middle">300</text>
<line x1="428.7" y1="93.4" x2="428.7" y2="95.4" stroke="#000" stroke-width="1.2"/>
<text x="428.7" y="104.9" font-size="7" font-family='"Liberation Serif", serif' fill="#000" text-anchor="middle">400</text>
<text x="400.3" y="113.2" font-size="7.7" font-family='"Liberation Sans", sans-serif' fill="#000" text-anchor="middle">Time to fatigue (min)</text>
<text x="332.6" y="58.8" font-size="7.45" font-family='"Liberation Sans", sans-serif' fill="#000" text-anchor="middle" transform="rotate(-90 332.6 58.8)">Percent still running</text>
<text x="321.8" y="12.6" font-size="10.8" font-family='"Liberation Serif", serif' fill="#000" font-weight="bold">C</text>
<text x="396.3" y="9.9" font-size="7.4" font-family='"Liberation Sans", sans-serif' fill="#000" text-anchor="middle">5-week old</text>
<line x1="374.5" y1="65.7" x2="390.7" y2="65.7" stroke="#000" stroke-width="1.1"/>
<polygon points="379.5,59.25 380.34,60.84 382.12,61.15 380.86,62.44 381.12,64.22 379.5,63.43 377.88,64.22 378.14,62.44 376.88,61.15 378.66,60.84" fill="#000"/>
<polygon points="385.3,59.25 386.14,60.84 387.92,61.15 386.66,62.44 386.92,64.22 385.3,63.43 383.68,64.22 383.94,62.44 382.68,61.15 384.46,60.84" fill="#000"/>
<line x1="394.2" y1="57.3" x2="404.7" y2="57.3" stroke="#000" stroke-width="1.1"/>
<polygon points="397.7,51.35 398.54,52.94 400.32,53.25 399.06,54.54 399.32,56.32 397.7,55.53 396.08,56.32 396.34,54.54 395.08,53.25 396.86,52.94" fill="#000"/>
<rect x="407" y="20.5" width="111" height="32.8" fill="#fff" stroke="#555" stroke-width="0.8"/>
<line x1="409.5" y1="24.6" x2="421" y2="24.6" stroke="#1aa7ec" stroke-width="1.1"/>
<polygon points="415.2,22.3 417.5,24.6 415.2,26.9 412.9,24.6" fill="#1aa7ec"/>
<text x="423.3" y="27.1" font-size="7.5" font-family='"Liberation Serif", serif' fill="#000">dFOXO-control</text>
<line x1="409.5" y1="32.7" x2="421" y2="32.7" stroke="#8064a2" stroke-width="1.1"/>
<polygon points="415.2,30.4 417.5,32.7 415.2,35 412.9,32.7" fill="#8064a2"/>
<text x="423.3" y="35.2" font-size="7.5" font-family='"Liberation Serif", serif' fill="#000">dFOXO-control+HSD</text>
<line x1="409.5" y1="40.8" x2="421" y2="40.8" stroke="#92d050" stroke-width="1.1"/>
<polygon points="415.2,38.38 417.5,42.52 412.9,42.52" fill="#92d050"/>
<text x="423.3" y="43.3" font-size="7.5" font-family='"Liberation Serif", serif' fill="#000">dFOXO-overexpression</text>
<line x1="409.5" y1="48.9" x2="421" y2="48.9" stroke="#ff0000" stroke-width="1.1"/>
<polygon points="415.2,46.48 417.5,50.62 412.9,50.62" fill="#ff0000"/>
<text x="423.3" y="51.4" font-size="7.5" font-family='"Liberation Serif", serif' fill="#000">dFOXO-overexpression+HSD</text>
<text x="5.7" y="140.9" font-size="10.6" font-family='"Liberation Serif", serif' fill="#000" font-weight="bold">D</text>
<line x1="41" y1="152.4" x2="41" y2="243.3" stroke="#303030" stroke-width="1"/>
<line x1="41" y1="242.9" x2="213.5" y2="242.9" stroke="#303030" stroke-width="1"/>
<line x1="39" y1="152.54" x2="41" y2="152.54" stroke="#303030" stroke-width="1"/>
<text x="33.4" y="155.34" font-size="7.4" font-family='"Liberation Serif", serif' fill="#222" text-anchor="end" letter-spacing="0.3">1.20</text>
<line x1="39" y1="167.6" x2="41" y2="167.6" stroke="#303030" stroke-width="1"/>
<text x="33.4" y="170.4" font-size="7.4" font-family='"Liberation Serif", serif' fill="#222" text-anchor="end" letter-spacing="0.3">1.00</text>
<line x1="39" y1="182.66" x2="41" y2="182.66" stroke="#303030" stroke-width="1"/>
<text x="33.4" y="185.46" font-size="7.4" font-family='"Liberation Serif", serif' fill="#222" text-anchor="end" letter-spacing="0.3">0.80</text>
<line x1="39" y1="197.72" x2="41" y2="197.72" stroke="#303030" stroke-width="1"/>
<text x="33.4" y="200.52" font-size="7.4" font-family='"Liberation Serif", serif' fill="#222" text-anchor="end" letter-spacing="0.3">0.60</text>
<line x1="39" y1="212.78" x2="41" y2="212.78" stroke="#303030" stroke-width="1"/>
<text x="33.4" y="215.58" font-size="7.4" font-family='"Liberation Serif", serif' fill="#222" text-anchor="end" letter-spacing="0.3">0.40</text>
<line x1="39" y1="227.84" x2="41" y2="227.84" stroke="#303030" stroke-width="1"/>
<text x="33.4" y="230.64" font-size="7.4" font-family='"Liberation Serif", serif' fill="#222" text-anchor="end" letter-spacing="0.3">0.20</text>
<line x1="39" y1="242.9" x2="41" y2="242.9" stroke="#303030" stroke-width="1"/>
<text x="33.4" y="245.7" font-size="7.4" font-family='"Liberation Serif", serif' fill="#222" text-anchor="end" letter-spacing="0.3">0.00</text>
<line x1="63.5" y1="242.9" x2="63.5" y2="245" stroke="#303030" stroke-width="1"/>
<line x1="106.5" y1="242.9" x2="106.5" y2="245" stroke="#303030" stroke-width="1"/>
<line x1="150.1" y1="242.9" x2="150.1" y2="245" stroke="#303030" stroke-width="1"/>
<line x1="193.5" y1="242.9" x2="193.5" y2="245" stroke="#303030" stroke-width="1"/>
<text x="64.2" y="253.5" font-size="7.5" font-family='"Liberation Serif", serif' fill="#000" text-anchor="middle">2-day-old</text>
<text x="64.2" y="261.5" font-size="7.5" font-family='"Liberation Serif", serif' fill="#000" text-anchor="middle">flies</text>
<text x="109.5" y="253.5" font-size="7.5" font-family='"Liberation Serif", serif' fill="#000" text-anchor="middle">1-week-old</text>
<text x="109.5" y="261.5" font-size="7.5" font-family='"Liberation Serif", serif' fill="#000" text-anchor="middle">flies</text>
<text x="153.4" y="253.5" font-size="7.5" font-family='"Liberation Serif", serif' fill="#000" text-anchor="middle">3-week-old</text>
<text x="153.4" y="261.5" font-size="7.5" font-family='"Liberation Serif", serif' fill="#000" text-anchor="middle">flies</text>
<text x="198.4" y="253.5" font-size="7.5" font-family='"Liberation Serif", serif' fill="#000" text-anchor="middle">5-week-old</text>
<text x="198.4" y="261.5" font-size="7.5" font-family='"Liberation Serif", serif' fill="#000" text-anchor="middle">flies</text>
<text x="13.3" y="197.6" font-size="7.25" font-family='"Liberation Serif", serif' fill="#000" text-anchor="middle" transform="rotate(-90 13.3 197.6)">Normalized climbing index</text>
<line x1="63.5" y1="149.3" x2="193.5" y2="149.3" stroke="#000" stroke-width="1.1"/>
<line x1="63.5" y1="149" x2="63.5" y2="151.8" stroke="#000" stroke-width="1.1"/>
<line x1="193.5" y1="149" x2="193.5" y2="151.8" stroke="#000" stroke-width="1.1"/>
<polygon points="121.5,142.55 122.34,144.14 124.12,144.45 122.86,145.74 123.12,147.52 121.5,146.73 119.88,147.52 120.14,145.74 118.88,144.45 120.66,144.14" fill="#000"/>
<polygon points="127.5,142.55 128.34,144.14 130.12,144.45 128.86,145.74 129.12,147.52 127.5,146.73 125.88,147.52 126.14,145.74 124.88,144.45 126.66,144.14" fill="#000"/>
<polyline points="63.5,163.84 106.5,161.58 150.1,169.11 193.5,192.45" stroke="#aad43c" stroke-width="1.7" fill="none" stroke-linejoin="round"/>
<line x1="63.5" y1="158.56" x2="63.5" y2="169.11" stroke="#aad43c" stroke-width="1"/>
<line x1="62.2" y1="158.56" x2="64.8" y2="158.56" stroke="#aad43c" stroke-width="1"/>
<line x1="62.2" y1="169.11" x2="64.8" y2="169.11" stroke="#aad43c" stroke-width="1"/>
<line x1="106.5" y1="157.81" x2="106.5" y2="165.34" stroke="#aad43c" stroke-width="1"/>
<line x1="105.2" y1="157.81" x2="107.8" y2="157.81" stroke="#aad43c" stroke-width="1"/>
<line x1="105.2" y1="165.34" x2="107.8" y2="165.34" stroke="#aad43c" stroke-width="1"/>
<line x1="150.1" y1="163.84" x2="150.1" y2="174.38" stroke="#aad43c" stroke-width="1"/>
<line x1="148.8" y1="163.84" x2="151.4" y2="163.84" stroke="#aad43c" stroke-width="1"/>
<line x1="148.8" y1="174.38" x2="151.4" y2="174.38" stroke="#aad43c" stroke-width="1"/>
<line x1="193.5" y1="188.68" x2="193.5" y2="196.21" stroke="#aad43c" stroke-width="1"/>
<line x1="192.2" y1="188.68" x2="194.8" y2="188.68" stroke="#aad43c" stroke-width="1"/>
<line x1="192.2" y1="196.21" x2="194.8" y2="196.21" stroke="#aad43c" stroke-width="1"/>
<polyline points="63.5,165.34 106.5,171.37 150.1,181.91 193.5,209.02" stroke="#e03c3c" stroke-width="1.7" fill="none" stroke-linejoin="round" stroke-dasharray="5 3"/>
<line x1="63.5" y1="163.08" x2="63.5" y2="167.6" stroke="#e03c3c" stroke-width="1"/>
<line x1="62.2" y1="163.08" x2="64.8" y2="163.08" stroke="#e03c3c" stroke-width="1"/>
<line x1="62.2" y1="167.6" x2="64.8" y2="167.6" stroke="#e03c3c" stroke-width="1"/>
<line x1="106.5" y1="166.09" x2="106.5" y2="176.64" stroke="#e03c3c" stroke-width="1"/>
<line x1="105.2" y1="166.09" x2="107.8" y2="166.09" stroke="#e03c3c" stroke-width="1"/>
<line x1="105.2" y1="176.64" x2="107.8" y2="176.64" stroke="#e03c3c" stroke-width="1"/>
<line x1="150.1" y1="176.64" x2="150.1" y2="187.18" stroke="#e03c3c" stroke-width="1"/>
<line x1="148.8" y1="176.64" x2="151.4" y2="176.64" stroke="#e03c3c" stroke-width="1"/>
<line x1="148.8" y1="187.18" x2="151.4" y2="187.18" stroke="#e03c3c" stroke-width="1"/>
<line x1="193.5" y1="205.25" x2="193.5" y2="212.78" stroke="#e03c3c" stroke-width="1"/>
<line x1="192.2" y1="205.25" x2="194.8" y2="205.25" stroke="#e03c3c" stroke-width="1"/>
<line x1="192.2" y1="212.78" x2="194.8" y2="212.78" stroke="#e03c3c" stroke-width="1"/>
<polyline points="63.5,167.6 106.5,169.11 150.1,176.64 193.5,205.25" stroke="#1f90cc" stroke-width="1.7" fill="none" stroke-linejoin="round"/>
<line x1="63.5" y1="166.09" x2="63.5" y2="169.11" stroke="#1f90cc" stroke-width="1"/>
<line x1="62.2" y1="166.09" x2="64.8" y2="166.09" stroke="#1f90cc" stroke-width="1"/>
<line x1="62.2" y1="169.11" x2="64.8" y2="169.11" stroke="#1f90cc" stroke-width="1"/>
<line x1="106.5" y1="166.85" x2="106.5" y2="171.37" stroke="#1f90cc" stroke-width="1"/>
<line x1="105.2" y1="166.85" x2="107.8" y2="166.85" stroke="#1f90cc" stroke-width="1"/>
<line x1="105.2" y1="171.37" x2="107.8" y2="171.37" stroke="#1f90cc" stroke-width="1"/>
<line x1="150.1" y1="174.38" x2="150.1" y2="178.9" stroke="#1f90cc" stroke-width="1"/>
<line x1="148.8" y1="174.38" x2="151.4" y2="174.38" stroke="#1f90cc" stroke-width="1"/>
<line x1="148.8" y1="178.9" x2="151.4" y2="178.9" stroke="#1f90cc" stroke-width="1"/>
<line x1="193.5" y1="202.99" x2="193.5" y2="207.51" stroke="#1f90cc" stroke-width="1"/>
<line x1="192.2" y1="202.99" x2="194.8" y2="202.99" stroke="#1f90cc" stroke-width="1"/>
<line x1="192.2" y1="207.51" x2="194.8" y2="207.51" stroke="#1f90cc" stroke-width="1"/>
<polyline points="63.5,169.11 106.5,183.41 150.1,209.02 193.5,233.86" stroke="#7a22e6" stroke-width="1.7" fill="none" stroke-linejoin="round" stroke-dasharray="5 3"/>
<line x1="63.5" y1="165.34" x2="63.5" y2="172.87" stroke="#7a22e6" stroke-width="1"/>
<line x1="62.2" y1="165.34" x2="64.8" y2="165.34" stroke="#7a22e6" stroke-width="1"/>
<line x1="62.2" y1="172.87" x2="64.8" y2="172.87" stroke="#7a22e6" stroke-width="1"/>
<line x1="106.5" y1="179.65" x2="106.5" y2="187.18" stroke="#7a22e6" stroke-width="1"/>
<line x1="105.2" y1="179.65" x2="107.8" y2="179.65" stroke="#7a22e6" stroke-width="1"/>
<line x1="105.2" y1="187.18" x2="107.8" y2="187.18" stroke="#7a22e6" stroke-width="1"/>
<line x1="150.1" y1="205.25" x2="150.1" y2="212.78" stroke="#7a22e6" stroke-width="1"/>
<line x1="148.8" y1="205.25" x2="151.4" y2="205.25" stroke="#7a22e6" stroke-width="1"/>
<line x1="148.8" y1="212.78" x2="151.4" y2="212.78" stroke="#7a22e6" stroke-width="1"/>
<line x1="193.5" y1="230.1" x2="193.5" y2="237.63" stroke="#7a22e6" stroke-width="1"/>
<line x1="192.2" y1="230.1" x2="194.8" y2="230.1" stroke="#7a22e6" stroke-width="1"/>
<line x1="192.2" y1="237.63" x2="194.8" y2="237.63" stroke="#7a22e6" stroke-width="1"/>
<line x1="49" y1="210.2" x2="62.5" y2="210.2" stroke="#1f90cc" stroke-width="1.7"/>
<text x="63.5" y="212.7" font-size="7.5" font-family='"Liberation Serif", serif' fill="#000">dFOXO-control</text>
<line x1="49" y1="217.7" x2="62.5" y2="217.7" stroke="#7a22e6" stroke-width="1.7" stroke-dasharray="5 3"/>
<text x="63.5" y="220.2" font-size="7.5" font-family='"Liberation Serif", serif' fill="#000">dFOXO-control+ HSD</text>
<line x1="49" y1="225.2" x2="62.5" y2="225.2" stroke="#aad43c" stroke-width="1.7"/>
<text x="63.5" y="227.7" font-size="7.5" font-family='"Liberation Serif", serif' fill="#000">dFOXO-overexpression</text>
<line x1="49" y1="232.7" x2="62.5" y2="232.7" stroke="#e03c3c" stroke-width="1.7" stroke-dasharray="5 3"/>
<text x="63.5" y="235.2" font-size="7.5" font-family='"Liberation Serif", serif' fill="#000">dFOXO-overexpression +HSD</text>
<text x="235.3" y="143.8" font-size="10.6" font-family='"Liberation Serif", serif' fill="#000" font-weight="bold">E</text>
<line x1="277.4" y1="143.6" x2="277.4" y2="242" stroke="#303030" stroke-width="1"/>
<line x1="277.4" y1="241.6" x2="438.5" y2="241.6" stroke="#303030" stroke-width="1"/>
<line x1="275.4" y1="144.28" x2="277.4" y2="144.28" stroke="#303030" stroke-width="1"/>
<text x="270.2" y="147.08" font-size="7.3" font-family='"Liberation Serif", serif' fill="#333" text-anchor="end" letter-spacing="0.25">1.20</text>
<line x1="275.4" y1="160.5" x2="277.4" y2="160.5" stroke="#303030" stroke-width="1"/>
<text x="270.2" y="163.3" font-size="7.3" font-family='"Liberation Serif", serif' fill="#333" text-anchor="end" letter-spacing="0.25">1.00</text>
<line x1="275.4" y1="176.72" x2="277.4" y2="176.72" stroke="#303030" stroke-width="1"/>
<text x="270.2" y="179.52" font-size="7.3" font-family='"Liberation Serif", serif' fill="#333" text-anchor="end" letter-spacing="0.25">0.80</text>
<line x1="275.4" y1="192.94" x2="277.4" y2="192.94" stroke="#303030" stroke-width="1"/>
<text x="270.2" y="195.74" font-size="7.3" font-family='"Liberation Serif", serif' fill="#333" text-anchor="end" letter-spacing="0.25">0.60</text>
<line x1="275.4" y1="209.16" x2="277.4" y2="209.16" stroke="#303030" stroke-width="1"/>
<text x="270.2" y="211.96" font-size="7.3" font-family='"Liberation Serif", serif' fill="#333" text-anchor="end" letter-spacing="0.25">0.40</text>
<line x1="275.4" y1="225.38" x2="277.4" y2="225.38" stroke="#303030" stroke-width="1"/>
<text x="270.2" y="228.18" font-size="7.3" font-family='"Liberation Serif", serif' fill="#333" text-anchor="end" letter-spacing="0.25">0.20</text>
<line x1="275.4" y1="241.6" x2="277.4" y2="241.6" stroke="#303030" stroke-width="1"/>
<text x="270.2" y="244.4" font-size="7.3" font-family='"Liberation Serif", serif' fill="#333" text-anchor="end" letter-spacing="0.25">0.00</text>
<text x="252.4" y="192.6" font-size="7.2" font-family='"Liberation Serif", serif' fill="#000" text-anchor="middle" transform="rotate(-90 252.4 192.6)">Normalized climbing index</text>
<rect x="284.2" y="162.12" width="9.9" height="79.48" fill="#1ba1e2" stroke="#333" stroke-width="0.5"/>
<line x1="289.15" y1="158.07" x2="289.15" y2="166.18" stroke="#333" stroke-width="0.8"/>
<line x1="287.95" y1="158.07" x2="290.35" y2="158.07" stroke="#333" stroke-width="0.8"/>
<line x1="287.95" y1="166.18" x2="290.35" y2="166.18" stroke="#333" stroke-width="0.8"/>
<rect x="294.1" y="177.53" width="9.9" height="64.07" fill="#8000ff" stroke="#333" stroke-width="0.5"/>
<line x1="299.05" y1="174.29" x2="299.05" y2="180.78" stroke="#333" stroke-width="0.8"/>
<line x1="297.85" y1="174.29" x2="300.25" y2="174.29" stroke="#333" stroke-width="0.8"/>
<line x1="297.85" y1="180.78" x2="300.25" y2="180.78" stroke="#333" stroke-width="0.8"/>
<rect x="304" y="154.01" width="9.9" height="87.59" fill="#b5e61d" stroke="#333" stroke-width="0.5"/>
<line x1="308.95" y1="149.96" x2="308.95" y2="158.07" stroke="#333" stroke-width="0.8"/>
<line x1="307.75" y1="149.96" x2="310.15" y2="149.96" stroke="#333" stroke-width="0.8"/>
<line x1="307.75" y1="158.07" x2="310.15" y2="158.07" stroke="#333" stroke-width="0.8"/>
<rect x="313.9" y="164.56" width="9.9" height="77.04" fill="#000000" stroke="#333" stroke-width="0.5"/>
<line x1="318.85" y1="160.5" x2="318.85" y2="168.61" stroke="#333" stroke-width="0.8"/>
<line x1="317.65" y1="160.5" x2="320.05" y2="160.5" stroke="#333" stroke-width="0.8"/>
<line x1="317.65" y1="168.61" x2="320.05" y2="168.61" stroke="#333" stroke-width="0.8"/>
<rect x="338.4" y="170.23" width="9.9" height="71.37" fill="#1ba1e2" stroke="#333" stroke-width="0.5"/>
<line x1="343.35" y1="166.99" x2="343.35" y2="173.48" stroke="#333" stroke-width="0.8"/>
<line x1="342.15" y1="166.99" x2="344.55" y2="166.99" stroke="#333" stroke-width="0.8"/>
<line x1="342.15" y1="173.48" x2="344.55" y2="173.48" stroke="#333" stroke-width="0.8"/>
<rect x="348.3" y="205.1" width="9.9" height="36.5" fill="#8000ff" stroke="#333" stroke-width="0.5"/>
<line x1="353.25" y1="200.24" x2="353.25" y2="209.97" stroke="#333" stroke-width="0.8"/>
<line x1="352.05" y1="200.24" x2="354.45" y2="200.24" stroke="#333" stroke-width="0.8"/>
<line x1="352.05" y1="209.97" x2="354.45" y2="209.97" stroke="#333" stroke-width="0.8"/>
<rect x="358.2" y="162.12" width="9.9" height="79.48" fill="#b5e61d" stroke="#333" stroke-width="0.5"/>
<line x1="363.15" y1="156.44" x2="363.15" y2="167.8" stroke="#333" stroke-width="0.8"/>
<line x1="361.95" y1="156.44" x2="364.35" y2="156.44" stroke="#333" stroke-width="0.8"/>
<line x1="361.95" y1="167.8" x2="364.35" y2="167.8" stroke="#333" stroke-width="0.8"/>
<rect x="368.1" y="176.72" width="9.9" height="64.88" fill="#000000" stroke="#333" stroke-width="0.5"/>
<line x1="373.05" y1="171.85" x2="373.05" y2="181.59" stroke="#333" stroke-width="0.8"/>
<line x1="371.85" y1="171.85" x2="374.25" y2="171.85" stroke="#333" stroke-width="0.8"/>
<line x1="371.85" y1="181.59" x2="374.25" y2="181.59" stroke="#333" stroke-width="0.8"/>
<rect x="392.6" y="201.05" width="9.9" height="40.55" fill="#1ba1e2" stroke="#333" stroke-width="0.5"/>
<line x1="397.55" y1="198.62" x2="397.55" y2="203.48" stroke="#333" stroke-width="0.8"/>
<line x1="396.35" y1="198.62" x2="398.75" y2="198.62" stroke="#333" stroke-width="0.8"/>
<line x1="396.35" y1="203.48" x2="398.75" y2="203.48" stroke="#333" stroke-width="0.8"/>
<rect x="402.5" y="231.06" width="9.9" height="10.54" fill="#8000ff" stroke="#333" stroke-width="0.5"/>
<line x1="407.45" y1="227.81" x2="407.45" y2="234.3" stroke="#333" stroke-width="0.8"/>
<line x1="406.25" y1="227.81" x2="408.65" y2="227.81" stroke="#333" stroke-width="0.8"/>
<line x1="406.25" y1="234.3" x2="408.65" y2="234.3" stroke="#333" stroke-width="0.8"/>
<rect x="412.4" y="187.26" width="9.9" height="54.34" fill="#b5e61d" stroke="#333" stroke-width="0.5"/>
<line x1="417.35" y1="184.02" x2="417.35" y2="190.51" stroke="#333" stroke-width="0.8"/>
<line x1="416.15" y1="184.02" x2="418.55" y2="184.02" stroke="#333" stroke-width="0.8"/>
<line x1="416.15" y1="190.51" x2="418.55" y2="190.51" stroke="#333" stroke-width="0.8"/>
<rect x="422.3" y="206.73" width="9.9" height="34.87" fill="#000000" stroke="#333" stroke-width="0.5"/>
<line x1="427.25" y1="203.48" x2="427.25" y2="209.97" stroke="#333" stroke-width="0.8"/>
<line x1="426.05" y1="203.48" x2="428.45" y2="203.48" stroke="#333" stroke-width="0.8"/>
<line x1="426.05" y1="209.97" x2="428.45" y2="209.97" stroke="#333" stroke-width="0.8"/>
<line x1="304.2" y1="241.6" x2="304.2" y2="243.5" stroke="#303030" stroke-width="1"/>
<text x="306.2" y="251.5" font-size="7.4" font-family='"Liberation Serif", serif' fill="#000" text-anchor="middle">1-week-old</text>
<text x="306.2" y="259.5" font-size="7.4" font-family='"Liberation Serif", serif' fill="#000" text-anchor="middle">flies</text>
<line x1="358.3" y1="241.6" x2="358.3" y2="243.5" stroke="#303030" stroke-width="1"/>
<text x="360.6" y="251.5" font-size="7.4" font-family='"Liberation Serif", serif' fill="#000" text-anchor="middle">3-week-old</text>
<text x="360.6" y="259.5" font-size="7.4" font-family='"Liberation Serif", serif' fill="#000" text-anchor="middle">flies</text>
<line x1="412.4" y1="241.6" x2="412.4" y2="243.5" stroke="#303030" stroke-width="1"/>
<text x="415.7" y="251.5" font-size="7.4" font-family='"Liberation Serif", serif' fill="#000" text-anchor="middle">5-week-old</text>
<text x="415.7" y="259.5" font-size="7.4" font-family='"Liberation Serif", serif' fill="#000" text-anchor="middle">flies</text>
<line x1="288.3" y1="149.2" x2="300.8" y2="149.2" stroke="#8a8a8a" stroke-width="0.9"/>
<line x1="288.3" y1="149.2" x2="288.3" y2="150.8" stroke="#8a8a8a" stroke-width="0.9"/>
<line x1="300.8" y1="149.2" x2="300.8" y2="150.8" stroke="#8a8a8a" stroke-width="0.9"/>
<polygon points="291.95,143.15 292.79,144.74 294.57,145.05 293.31,146.34 293.57,148.12 291.95,147.33 290.33,148.12 290.59,146.34 289.33,145.05 291.11,144.74" fill="#000"/>
<polygon points="297.95,143.15 298.79,144.74 300.57,145.05 299.31,146.34 299.57,148.12 297.95,147.33 296.33,148.12 296.59,146.34 295.33,145.05 297.11,144.74" fill="#000"/>
<line x1="288.3" y1="140.4" x2="309" y2="140.4" stroke="#8a8a8a" stroke-width="0.9"/>
<polygon points="299.05,134.35 299.89,135.94 301.67,136.25 300.41,137.54 300.67,139.32 299.05,138.53 297.43,139.32 297.69,137.54 296.43,136.25 298.21,135.94" fill="#000"/>
<line x1="299.2" y1="131.8" x2="319.8" y2="131.8" stroke="#8a8a8a" stroke-width="0.9"/>
<polygon points="309.9,125.75 310.74,127.34 312.52,127.65 311.26,128.94 311.52,130.72 309.9,129.93 308.28,130.72 308.54,128.94 307.28,127.65 309.06,127.34" fill="#000"/>
<line x1="343.1" y1="161" x2="355.8" y2="161" stroke="#8a8a8a" stroke-width="0.9"/>
<line x1="343.1" y1="161" x2="343.1" y2="162.6" stroke="#8a8a8a" stroke-width="0.9"/>
<line x1="355.8" y1="161" x2="355.8" y2="162.6" stroke="#8a8a8a" stroke-width="0.9"/>
<polygon points="346.85,154.95 347.69,156.54 349.47,156.85 348.21,158.14 348.47,159.92 346.85,159.13 345.23,159.92 345.49,158.14 344.23,156.85 346.01,156.54" fill="#000"/>
<polygon points="352.85,154.95 353.69,156.54 355.47,156.85 354.21,158.14 354.47,159.92 352.85,159.13 351.23,159.92 351.49,158.14 350.23,156.85 352.01,156.54" fill="#000"/>
<line x1="343.1" y1="150.8" x2="362.8" y2="150.8" stroke="#8a8a8a" stroke-width="0.9"/>
<polygon points="353.35,144.75 354.19,146.34 355.97,146.65 354.71,147.94 354.97,149.72 353.35,148.93 351.73,149.72 351.99,147.94 350.73,146.65 352.51,146.34" fill="#000"/>
<line x1="350.1" y1="142.3" x2="370.6" y2="142.3" stroke="#8a8a8a" stroke-width="0.9"/>
<polygon points="357.75,136.25 358.59,137.84 360.37,138.15 359.11,139.44 359.37,141.22 357.75,140.43 356.13,141.22 356.39,139.44 355.13,138.15 356.91,137.84" fill="#000"/>
<polygon points="363.75,136.25 364.59,137.84 366.37,138.15 365.11,139.44 365.37,141.22 363.75,140.43 362.13,141.22 362.39,139.44 361.13,138.15 362.91,137.84" fill="#000"/>
<line x1="397.3" y1="194.8" x2="409.3" y2="194.8" stroke="#8a8a8a" stroke-width="0.9"/>
<line x1="397.3" y1="194.8" x2="397.3" y2="196.4" stroke="#8a8a8a" stroke-width="0.9"/>
<line x1="409.3" y1="194.8" x2="409.3" y2="196.4" stroke="#8a8a8a" stroke-width="0.9"/>
<polygon points="400.7,188.75 401.54,190.34 403.32,190.65 402.06,191.94 402.32,193.72 400.7,192.93 399.08,193.72 399.34,191.94 398.08,190.65 399.86,190.34" fill="#000"/>
<polygon points="406.7,188.75 407.54,190.34 409.32,190.65 408.06,191.94 408.32,193.72 406.7,192.93 405.08,193.72 405.34,191.94 404.08,190.65 405.86,190.34" fill="#000"/>
<line x1="396.6" y1="176.8" x2="416.7" y2="176.8" stroke="#8a8a8a" stroke-width="0.9"/>
<polygon points="404.05,170.75 404.89,172.34 406.67,172.65 405.41,173.94 405.67,175.72 404.05,174.93 402.43,175.72 402.69,173.94 401.43,172.65 403.21,172.34" fill="#000"/>
<polygon points="410.05,170.75 410.89,172.34 412.67,172.65 411.41,173.94 411.67,175.72 410.05,174.93 408.43,175.72 408.69,173.94 407.43,172.65 409.21,172.34" fill="#000"/>
<line x1="407.5" y1="169" x2="427.8" y2="169" stroke="#8a8a8a" stroke-width="0.9"/>
<polygon points="415.05,162.95 415.89,164.54 417.67,164.85 416.41,166.14 416.67,167.92 415.05,167.13 413.43,167.92 413.69,166.14 412.43,164.85 414.21,164.54" fill="#000"/>
<polygon points="421.05,162.95 421.89,164.54 423.67,164.85 422.41,166.14 422.67,167.92 421.05,167.13 419.43,167.92 419.69,166.14 418.43,164.85 420.21,164.54" fill="#000"/>
<rect x="402.8" y="126.8" width="105" height="32.3" fill="#fff" stroke="#555" stroke-width="0.8"/>
<rect x="404.6" y="129.1" width="5.6" height="5.2" fill="#1ba1e2" stroke="#333" stroke-width="0.4"/>
<text x="412.4" y="134.2" font-size="7.5" font-family='"Liberation Serif", serif' fill="#000">dFOXO-control</text>
<rect x="404.6" y="136.75" width="5.6" height="5.2" fill="#8000ff" stroke="#333" stroke-width="0.4"/>
<text x="412.4" y="141.85" font-size="7.5" font-family='"Liberation Serif", serif' fill="#000">dFOXO-control+ HSD</text>
<rect x="404.6" y="144.4" width="5.6" height="5.2" fill="#b5e61d" stroke="#333" stroke-width="0.4"/>
<text x="412.4" y="149.5" font-size="7.5" font-family='"Liberation Serif", serif' fill="#000">dFOXO-overexpression</text>
<rect x="404.6" y="152.05" width="5.6" height="5.2" fill="#000000" stroke="#333" stroke-width="0.4"/>
<text x="412.4" y="157.15" font-size="7.5" font-family='"Liberation Serif", serif' fill="#000">dFOXO-overexpression+ HSD</text>
<text x="3" y="277.6" font-size="10.6" font-family='"Liberation Serif", serif' fill="#000" font-weight="bold">F</text>
<polyline points="36.7,286.95 60,286.95 72.9,287.66 85.9,288.56 100.9,289.63 107.4,290.52 109.4,291.86 111.4,294.54 113.2,296.24 115.1,301.69 116.9,309.02 118.7,316.26 120.5,323.49 122.3,330.82 124.2,338.15 126,345.47 128.7,352.71 131.5,360.04 135.1,365.49 139.7,370.05 145.1,373.71 151.5,375.67 156.1,376.3" stroke="#92d050" stroke-width="1.5" fill="none" stroke-linejoin="round"/>
<polygon points="36.7,284.12 39.4,288.98 34,288.98" fill="#92d050"/>
<polygon points="38.34,284.12 41.04,288.98 35.64,288.98" fill="#92d050"/>
<polygon points="39.99,284.12 42.69,288.98 37.29,288.98" fill="#92d050"/>
<polygon points="41.63,284.12 44.33,288.98 38.93,288.98" fill="#92d050"/>
<polygon points="43.27,284.12 45.97,288.98 40.57,288.98" fill="#92d050"/>
<polygon points="44.92,284.12 47.62,288.98 42.22,288.98" fill="#92d050"/>
<polygon points="46.56,284.12 49.26,288.98 43.86,288.98" fill="#92d050"/>
<polygon points="48.2,284.12 50.9,288.98 45.5,288.98" fill="#92d050"/>
<polygon points="49.84,284.12 52.54,288.98 47.14,288.98" fill="#92d050"/>
<polygon points="51.49,284.12 54.19,288.98 48.79,288.98" fill="#92d050"/>
<polygon points="53.13,284.12 55.83,288.98 50.43,288.98" fill="#92d050"/>
<polygon points="54.77,284.12 57.47,288.98 52.07,288.98" fill="#92d050"/>
<polygon points="56.42,284.12 59.12,288.98 53.72,288.98" fill="#92d050"/>
<polygon points="58.06,284.12 60.76,288.98 55.36,288.98" fill="#92d050"/>
<polygon points="59.7,284.12 62.4,288.98 57,288.98" fill="#92d050"/>
<polygon points="61.35,284.19 64.05,289.05 58.65,289.05" fill="#92d050"/>
<polygon points="62.99,284.28 65.69,289.14 60.29,289.14" fill="#92d050"/>
<polygon points="64.63,284.37 67.33,289.23 61.93,289.23" fill="#92d050"/>
<polygon points="66.27,284.46 68.97,289.32 63.57,289.32" fill="#92d050"/>
<polygon points="67.92,284.55 70.62,289.41 65.22,289.41" fill="#92d050"/>
<polygon points="69.56,284.64 72.26,289.5 66.86,289.5" fill="#92d050"/>
<polygon points="71.2,284.74 73.9,289.6 68.5,289.6" fill="#92d050"/>
<polygon points="72.85,284.83 75.55,289.69 70.15,289.69" fill="#92d050"/>
<polygon points="74.49,284.94 77.19,289.8 71.79,289.8" fill="#92d050"/>
<polygon points="76.13,285.05 78.83,289.91 73.43,289.91" fill="#92d050"/>
<polygon points="77.78,285.16 80.48,290.02 75.08,290.02" fill="#92d050"/>
<polygon points="79.42,285.28 82.12,290.14 76.72,290.14" fill="#92d050"/>
<polygon points="81.06,285.39 83.76,290.25 78.36,290.25" fill="#92d050"/>
<polygon points="82.7,285.5 85.4,290.36 80,290.36" fill="#92d050"/>
<polygon points="84.35,285.62 87.05,290.48 81.65,290.48" fill="#92d050"/>
<polygon points="85.99,285.73 88.69,290.59 83.29,290.59" fill="#92d050"/>
<polygon points="87.63,285.85 90.33,290.71 84.93,290.71" fill="#92d050"/>
<polygon points="89.28,285.96 91.98,290.82 86.58,290.82" fill="#92d050"/>
<polygon points="90.92,286.08 93.62,290.94 88.22,290.94" fill="#92d050"/>
<polygon points="92.56,286.2 95.26,291.06 89.86,291.06" fill="#92d050"/>
<polygon points="94.21,286.32 96.91,291.18 91.51,291.18" fill="#92d050"/>
<polygon points="95.85,286.43 98.55,291.29 93.15,291.29" fill="#92d050"/>
<polygon points="97.49,286.55 100.19,291.41 94.79,291.41" fill="#92d050"/>
<polygon points="99.13,286.67 101.83,291.53 96.43,291.53" fill="#92d050"/>
<polygon points="100.78,286.79 103.48,291.65 98.08,291.65" fill="#92d050"/>
<polygon points="102.42,287 105.12,291.86 99.72,291.86" fill="#92d050"/>
<polygon points="104.06,287.23 106.76,292.09 101.36,292.09" fill="#92d050"/>
<polygon points="105.71,287.46 108.41,292.32 103.01,292.32" fill="#92d050"/>
<polygon points="107.35,287.68 110.05,292.54 104.65,292.54" fill="#92d050"/>
<polygon points="108.99,288.76 111.69,293.62 106.29,293.62" fill="#92d050"/>
<polygon points="110.64,290.68 113.34,295.54 107.94,295.54" fill="#92d050"/>
<polygon points="112.28,292.54 114.98,297.4 109.58,297.4" fill="#92d050"/>
<polygon points="113.92,295.48 116.62,300.34 111.22,300.34" fill="#92d050"/>
<polygon points="115.56,300.75 118.26,305.61 112.86,305.61" fill="#92d050"/>
<polygon points="117.21,307.42 119.91,312.28 114.51,312.28" fill="#92d050"/>
<polygon points="118.85,314.02 121.55,318.88 116.15,318.88" fill="#92d050"/>
<polygon points="120.49,320.63 123.19,325.49 117.79,325.49" fill="#92d050"/>
<polygon points="122.14,327.32 124.84,332.18 119.44,332.18" fill="#92d050"/>
<polygon points="123.78,333.69 126.48,338.55 121.08,338.55" fill="#92d050"/>
<polygon points="125.42,340.29 128.12,345.15 122.72,345.15" fill="#92d050"/>
<polygon points="127.07,345.49 129.77,350.35 124.37,350.35" fill="#92d050"/>
<polygon points="128.71,349.9 131.41,354.76 126.01,354.76" fill="#92d050"/>
<polygon points="130.35,354.2 133.05,359.06 127.65,359.06" fill="#92d050"/>
<polygon points="131.99,357.95 134.69,362.81 129.29,362.81" fill="#92d050"/>
<polygon points="133.64,360.44 136.34,365.3 130.94,365.3" fill="#92d050"/>
<polygon points="135.28,362.83 137.98,367.69 132.58,367.69" fill="#92d050"/>
<polygon points="136.92,364.46 139.62,369.32 134.22,369.32" fill="#92d050"/>
<polygon points="138.57,366.09 141.27,370.95 135.87,370.95" fill="#92d050"/>
<polygon points="140.21,367.56 142.91,372.42 137.51,372.42" fill="#92d050"/>
<polygon points="141.85,368.67 144.55,373.53 139.15,373.53" fill="#92d050"/>
<polygon points="143.5,369.79 146.2,374.65 140.8,374.65" fill="#92d050"/>
<polygon points="145.14,370.89 147.84,375.75 142.44,375.75" fill="#92d050"/>
<polygon points="146.78,371.39 149.48,376.25 144.08,376.25" fill="#92d050"/>
<polygon points="148.42,371.89 151.12,376.75 145.72,376.75" fill="#92d050"/>
<polygon points="150.07,372.4 152.77,377.26 147.37,377.26" fill="#92d050"/>
<polygon points="151.71,372.87 154.41,377.73 149.01,377.73" fill="#92d050"/>
<polygon points="153.35,373.09 156.05,377.95 150.65,377.95" fill="#92d050"/>
<polygon points="155,373.31 157.7,378.17 152.3,378.17" fill="#92d050"/>
<polyline points="36.7,286.95 60,286.95 72.9,288.38 85.9,290.17 100.9,291.6 104.9,292.4 107.8,294.37 109.6,299.82 111.4,307.05 113.2,316.17 115.1,325.37 116.9,334.48 118.7,343.6 121.4,352.71 124.2,360.04 127.8,365.49 132.4,370.05 136.9,373.71 141.5,375.67 143.9,376.3" stroke="#17b0ee" stroke-width="1.5" fill="none" stroke-linejoin="round"/>
<polygon points="36.7,284.35 39.3,286.95 36.7,289.55 34.1,286.95" fill="#17b0ee"/>
<polygon points="38.34,284.35 40.94,286.95 38.34,289.55 35.74,286.95" fill="#17b0ee"/>
<polygon points="39.99,284.35 42.59,286.95 39.99,289.55 37.39,286.95" fill="#17b0ee"/>
<polygon points="41.63,284.35 44.23,286.95 41.63,289.55 39.03,286.95" fill="#17b0ee"/>
<polygon points="43.27,284.35 45.87,286.95 43.27,289.55 40.67,286.95" fill="#17b0ee"/>
<polygon points="44.92,284.35 47.52,286.95 44.92,289.55 42.32,286.95" fill="#17b0ee"/>
<polygon points="46.56,284.35 49.16,286.95 46.56,289.55 43.96,286.95" fill="#17b0ee"/>
<polygon points="48.2,284.35 50.8,286.95 48.2,289.55 45.6,286.95" fill="#17b0ee"/>
<polygon points="49.84,284.35 52.44,286.95 49.84,289.55 47.24,286.95" fill="#17b0ee"/>
<polygon points="51.49,284.35 54.09,286.95 51.49,289.55 48.89,286.95" fill="#17b0ee"/>
<polygon points="53.13,284.35 55.73,286.95 53.13,289.55 50.53,286.95" fill="#17b0ee"/>
<polygon points="54.77,284.35 57.37,286.95 54.77,289.55 52.17,286.95" fill="#17b0ee"/>
<polygon points="56.42,284.35 59.02,286.95 56.42,289.55 53.82,286.95" fill="#17b0ee"/>
<polygon points="58.06,284.35 60.66,286.95 58.06,289.55 55.46,286.95" fill="#17b0ee"/>
<polygon points="59.7,284.35 62.3,286.95 59.7,289.55 57.1,286.95" fill="#17b0ee"/>
<polygon points="61.35,284.5 63.95,287.1 61.35,289.7 58.75,287.1" fill="#17b0ee"/>
<polygon points="62.99,284.68 65.59,287.28 62.99,289.88 60.39,287.28" fill="#17b0ee"/>
<polygon points="64.63,284.86 67.23,287.46 64.63,290.06 62.03,287.46" fill="#17b0ee"/>
<polygon points="66.27,285.05 68.87,287.65 66.27,290.25 63.67,287.65" fill="#17b0ee"/>
<polygon points="67.92,285.23 70.52,287.83 67.92,290.43 65.32,287.83" fill="#17b0ee"/>
<polygon points="69.56,285.41 72.16,288.01 69.56,290.61 66.96,288.01" fill="#17b0ee"/>
<polygon points="71.2,285.59 73.8,288.19 71.2,290.79 68.6,288.19" fill="#17b0ee"/>
<polygon points="72.85,285.77 75.45,288.37 72.85,290.97 70.25,288.37" fill="#17b0ee"/>
<polygon points="74.49,286 77.09,288.6 74.49,291.2 71.89,288.6" fill="#17b0ee"/>
<polygon points="76.13,286.22 78.73,288.82 76.13,291.42 73.53,288.82" fill="#17b0ee"/>
<polygon points="77.78,286.45 80.38,289.05 77.78,291.65 75.18,289.05" fill="#17b0ee"/>
<polygon points="79.42,286.68 82.02,289.28 79.42,291.88 76.82,289.28" fill="#17b0ee"/>
<polygon points="81.06,286.9 83.66,289.5 81.06,292.1 78.46,289.5" fill="#17b0ee"/>
<polygon points="82.7,287.13 85.3,289.73 82.7,292.33 80.1,289.73" fill="#17b0ee"/>
<polygon points="84.35,287.35 86.95,289.95 84.35,292.55 81.75,289.95" fill="#17b0ee"/>
<polygon points="85.99,287.58 88.59,290.18 85.99,292.78 83.39,290.18" fill="#17b0ee"/>
<polygon points="87.63,287.73 90.23,290.33 87.63,292.93 85.03,290.33" fill="#17b0ee"/>
<polygon points="89.28,287.89 91.88,290.49 89.28,293.09 86.68,290.49" fill="#17b0ee"/>
<polygon points="90.92,288.04 93.52,290.64 90.92,293.24 88.32,290.64" fill="#17b0ee"/>
<polygon points="92.56,288.2 95.16,290.8 92.56,293.4 89.96,290.8" fill="#17b0ee"/>
<polygon points="94.21,288.36 96.81,290.96 94.21,293.56 91.61,290.96" fill="#17b0ee"/>
<polygon points="95.85,288.51 98.45,291.11 95.85,293.71 93.25,291.11" fill="#17b0ee"/>
<polygon points="97.49,288.67 100.09,291.27 97.49,293.87 94.89,291.27" fill="#17b0ee"/>
<polygon points="99.13,288.83 101.73,291.43 99.13,294.03 96.53,291.43" fill="#17b0ee"/>
<polygon points="100.78,288.98 103.38,291.58 100.78,294.18 98.18,291.58" fill="#17b0ee"/>
<polygon points="102.42,289.3 105.02,291.9 102.42,294.5 99.82,291.9" fill="#17b0ee"/>
<polygon points="104.06,289.63 106.66,292.23 104.06,294.83 101.46,292.23" fill="#17b0ee"/>
<polygon points="105.71,290.35 108.31,292.95 105.71,295.55 103.11,292.95" fill="#17b0ee"/>
<polygon points="107.35,291.46 109.95,294.06 107.35,296.66 104.75,294.06" fill="#17b0ee"/>
<polygon points="108.99,295.38 111.59,297.98 108.99,300.58 106.39,297.98" fill="#17b0ee"/>
<polygon points="110.64,301.38 113.24,303.98 110.64,306.58 108.04,303.98" fill="#17b0ee"/>
<polygon points="112.28,308.9 114.88,311.5 112.28,314.1 109.68,311.5" fill="#17b0ee"/>
<polygon points="113.92,317.06 116.52,319.66 113.92,322.26 111.32,319.66" fill="#17b0ee"/>
<polygon points="115.56,325.12 118.16,327.72 115.56,330.32 112.96,327.72" fill="#17b0ee"/>
<polygon points="117.21,333.44 119.81,336.04 117.21,338.64 114.61,336.04" fill="#17b0ee"/>
<polygon points="118.85,341.5 121.45,344.1 118.85,346.7 116.25,344.1" fill="#17b0ee"/>
<polygon points="120.49,347.05 123.09,349.65 120.49,352.25 117.89,349.65" fill="#17b0ee"/>
<polygon points="122.14,352.04 124.74,354.64 122.14,357.24 119.54,354.64" fill="#17b0ee"/>
<polygon points="123.78,356.34 126.38,358.94 123.78,361.54 121.18,358.94" fill="#17b0ee"/>
<polygon points="125.42,359.29 128.02,361.89 125.42,364.49 122.82,361.89" fill="#17b0ee"/>
<polygon points="127.07,361.78 129.67,364.38 127.07,366.98 124.47,364.38" fill="#17b0ee"/>
<polygon points="128.71,363.79 131.31,366.39 128.71,368.99 126.11,366.39" fill="#17b0ee"/>
<polygon points="130.35,365.42 132.95,368.02 130.35,370.62 127.75,368.02" fill="#17b0ee"/>
<polygon points="131.99,367.04 134.59,369.64 131.99,372.24 129.39,369.64" fill="#17b0ee"/>
<polygon points="133.64,368.45 136.24,371.05 133.64,373.65 131.04,371.05" fill="#17b0ee"/>
<polygon points="135.28,369.79 137.88,372.39 135.28,374.99 132.68,372.39" fill="#17b0ee"/>
<polygon points="136.92,371.12 139.52,373.72 136.92,376.32 134.32,373.72" fill="#17b0ee"/>
<polygon points="138.57,371.82 141.17,374.42 138.57,377.02 135.97,374.42" fill="#17b0ee"/>
<polygon points="140.21,372.52 142.81,375.12 140.21,377.72 137.61,375.12" fill="#17b0ee"/>
<polygon points="141.85,373.17 144.45,375.77 141.85,378.37 139.25,375.77" fill="#17b0ee"/>
<polygon points="143.5,373.59 146.1,376.19 143.5,378.79 140.9,376.19" fill="#17b0ee"/>
<polyline points="36.7,286.95 62.9,286.95 70.9,288.2 78.9,290.52 85.2,293.65 86.9,296.33 88.6,299.46 90.5,305.53 92.3,312.86 94.1,319.21 95.9,326.53 97.7,334.66 99.6,341.99 101.4,348.33 104.1,354.68 106.9,361.11 110.5,367.45 114.1,371.12 118.7,373.8 123.3,375.67 124.9,376.3" stroke="#7030a0" stroke-width="1.5" fill="none" stroke-linejoin="round"/>
<polygon points="36.7,284.35 39.3,286.95 36.7,289.55 34.1,286.95" fill="#7030a0"/>
<polygon points="38.34,284.35 40.94,286.95 38.34,289.55 35.74,286.95" fill="#7030a0"/>
<polygon points="39.99,284.35 42.59,286.95 39.99,289.55 37.39,286.95" fill="#7030a0"/>
<polygon points="41.63,284.35 44.23,286.95 41.63,289.55 39.03,286.95" fill="#7030a0"/>
<polygon points="43.27,284.35 45.87,286.95 43.27,289.55 40.67,286.95" fill="#7030a0"/>
<polygon points="44.92,284.35 47.52,286.95 44.92,289.55 42.32,286.95" fill="#7030a0"/>
<polygon points="46.56,284.35 49.16,286.95 46.56,289.55 43.96,286.95" fill="#7030a0"/>
<polygon points="48.2,284.35 50.8,286.95 48.2,289.55 45.6,286.95" fill="#7030a0"/>
<polygon points="49.84,284.35 52.44,286.95 49.84,289.55 47.24,286.95" fill="#7030a0"/>
<polygon points="51.49,284.35 54.09,286.95 51.49,289.55 48.89,286.95" fill="#7030a0"/>
<polygon points="53.13,284.35 55.73,286.95 53.13,289.55 50.53,286.95" fill="#7030a0"/>
<polygon points="54.77,284.35 57.37,286.95 54.77,289.55 52.17,286.95" fill="#7030a0"/>
<polygon points="56.42,284.35 59.02,286.95 56.42,289.55 53.82,286.95" fill="#7030a0"/>
<polygon points="58.06,284.35 60.66,286.95 58.06,289.55 55.46,286.95" fill="#7030a0"/>
<polygon points="59.7,284.35 62.3,286.95 59.7,289.55 57.1,286.95" fill="#7030a0"/>
<polygon points="61.35,284.35 63.95,286.95 61.35,289.55 58.75,286.95" fill="#7030a0"/>
<polygon points="62.99,284.36 65.59,286.96 62.99,289.56 60.39,286.96" fill="#7030a0"/>
<polygon points="64.63,284.62 67.23,287.22 64.63,289.82 62.03,287.22" fill="#7030a0"/>
<polygon points="66.27,284.88 68.87,287.48 66.27,290.08 63.67,287.48" fill="#7030a0"/>
<polygon points="67.92,285.13 70.52,287.73 67.92,290.33 65.32,287.73" fill="#7030a0"/>
<polygon points="69.56,285.39 72.16,287.99 69.56,290.59 66.96,287.99" fill="#7030a0"/>
<polygon points="71.2,285.69 73.8,288.29 71.2,290.89 68.6,288.29" fill="#7030a0"/>
<polygon points="72.85,286.17 75.45,288.77 72.85,291.37 70.25,288.77" fill="#7030a0"/>
<polygon points="74.49,286.64 77.09,289.24 74.49,291.84 71.89,289.24" fill="#7030a0"/>
<polygon points="76.13,287.12 78.73,289.72 76.13,292.32 73.53,289.72" fill="#7030a0"/>
<polygon points="77.78,287.6 80.38,290.2 77.78,292.8 75.18,290.2" fill="#7030a0"/>
<polygon points="79.42,288.18 82.02,290.78 79.42,293.38 76.82,290.78" fill="#7030a0"/>
<polygon points="81.06,289 83.66,291.6 81.06,294.2 78.46,291.6" fill="#7030a0"/>
<polygon points="82.7,289.81 85.3,292.41 82.7,295.01 80.1,292.41" fill="#7030a0"/>
<polygon points="84.35,290.63 86.95,293.23 84.35,295.83 81.75,293.23" fill="#7030a0"/>
<polygon points="85.99,292.3 88.59,294.9 85.99,297.5 83.39,294.9" fill="#7030a0"/>
<polygon points="87.63,295.08 90.23,297.68 87.63,300.28 85.03,297.68" fill="#7030a0"/>
<polygon points="89.28,299.02 91.88,301.62 89.28,304.22 86.68,301.62" fill="#7030a0"/>
<polygon points="90.92,304.64 93.52,307.24 90.92,309.84 88.32,307.24" fill="#7030a0"/>
<polygon points="92.56,311.18 95.16,313.78 92.56,316.38 89.96,313.78" fill="#7030a0"/>
<polygon points="94.21,317.03 96.81,319.63 94.21,322.23 91.61,319.63" fill="#7030a0"/>
<polygon points="95.85,323.72 98.45,326.32 95.85,328.92 93.25,326.32" fill="#7030a0"/>
<polygon points="97.49,331.12 100.09,333.72 97.49,336.32 94.89,333.72" fill="#7030a0"/>
<polygon points="99.13,337.59 101.73,340.19 99.13,342.79 96.53,340.19" fill="#7030a0"/>
<polygon points="100.78,343.54 103.38,346.14 100.78,348.74 98.18,346.14" fill="#7030a0"/>
<polygon points="102.42,348.13 105.02,350.73 102.42,353.33 99.82,350.73" fill="#7030a0"/>
<polygon points="104.06,351.99 106.66,354.59 104.06,357.19 101.46,354.59" fill="#7030a0"/>
<polygon points="105.71,355.77 108.31,358.37 105.71,360.97 103.11,358.37" fill="#7030a0"/>
<polygon points="107.35,359.3 109.95,361.9 107.35,364.5 104.75,361.9" fill="#7030a0"/>
<polygon points="108.99,362.2 111.59,364.8 108.99,367.4 106.39,364.8" fill="#7030a0"/>
<polygon points="110.64,364.99 113.24,367.59 110.64,370.19 108.04,367.59" fill="#7030a0"/>
<polygon points="112.28,366.66 114.88,369.26 112.28,371.86 109.68,369.26" fill="#7030a0"/>
<polygon points="113.92,368.34 116.52,370.94 113.92,373.54 111.32,370.94" fill="#7030a0"/>
<polygon points="115.56,369.37 118.16,371.97 115.56,374.57 112.96,371.97" fill="#7030a0"/>
<polygon points="117.21,370.33 119.81,372.93 117.21,375.53 114.61,372.93" fill="#7030a0"/>
<polygon points="118.85,371.26 121.45,373.86 118.85,376.46 116.25,373.86" fill="#7030a0"/>
<polygon points="120.49,371.93 123.09,374.53 120.49,377.13 117.89,374.53" fill="#7030a0"/>
<polygon points="122.14,372.6 124.74,375.2 122.14,377.8 119.54,375.2" fill="#7030a0"/>
<polygon points="123.78,373.26 126.38,375.86 123.78,378.46 121.18,375.86" fill="#7030a0"/>
<polyline points="36.7,287.84 60,288.02 72.9,289.18 83.9,291.6 99.9,294.28 103.9,296.33 106.2,298.57 107.8,301.69 109.6,310.81 111.4,319.92 113.2,329.03 115.1,338.15 116.9,347.17 118.7,354.5 121.4,360.04 124.2,365.49 127.8,370.13 131.5,372.82 135.1,374.78 137.9,376.3" stroke="#ff0000" stroke-width="1.5" fill="none" stroke-linejoin="round"/>
<polygon points="36.7,285.01 39.4,289.87 34,289.87" fill="#ff0000"/>
<polygon points="38.34,285.02 41.04,289.88 35.64,289.88" fill="#ff0000"/>
<polygon points="39.99,285.03 42.69,289.89 37.29,289.89" fill="#ff0000"/>
<polygon points="41.63,285.05 44.33,289.91 38.93,289.91" fill="#ff0000"/>
<polygon points="43.27,285.06 45.97,289.92 40.57,289.92" fill="#ff0000"/>
<polygon points="44.92,285.07 47.62,289.93 42.22,289.93" fill="#ff0000"/>
<polygon points="46.56,285.08 49.26,289.94 43.86,289.94" fill="#ff0000"/>
<polygon points="48.2,285.1 50.9,289.96 45.5,289.96" fill="#ff0000"/>
<polygon points="49.84,285.11 52.54,289.97 47.14,289.97" fill="#ff0000"/>
<polygon points="51.49,285.12 54.19,289.98 48.79,289.98" fill="#ff0000"/>
<polygon points="53.13,285.13 55.83,289.99 50.43,289.99" fill="#ff0000"/>
<polygon points="54.77,285.15 57.47,290.01 52.07,290.01" fill="#ff0000"/>
<polygon points="56.42,285.16 59.12,290.02 53.72,290.02" fill="#ff0000"/>
<polygon points="58.06,285.17 60.76,290.03 55.36,290.03" fill="#ff0000"/>
<polygon points="59.7,285.18 62.4,290.04 57,290.04" fill="#ff0000"/>
<polygon points="61.35,285.31 64.05,290.17 58.65,290.17" fill="#ff0000"/>
<polygon points="62.99,285.46 65.69,290.32 60.29,290.32" fill="#ff0000"/>
<polygon points="64.63,285.6 67.33,290.46 61.93,290.46" fill="#ff0000"/>
<polygon points="66.27,285.75 68.97,290.61 63.57,290.61" fill="#ff0000"/>
<polygon points="67.92,285.9 70.62,290.76 65.22,290.76" fill="#ff0000"/>
<polygon points="69.56,286.05 72.26,290.91 66.86,290.91" fill="#ff0000"/>
<polygon points="71.2,286.2 73.9,291.06 68.5,291.06" fill="#ff0000"/>
<polygon points="72.85,286.34 75.55,291.2 70.15,291.2" fill="#ff0000"/>
<polygon points="74.49,286.7 77.19,291.56 71.79,291.56" fill="#ff0000"/>
<polygon points="76.13,287.06 78.83,291.92 73.43,291.92" fill="#ff0000"/>
<polygon points="77.78,287.42 80.48,292.28 75.08,292.28" fill="#ff0000"/>
<polygon points="79.42,287.78 82.12,292.64 76.72,292.64" fill="#ff0000"/>
<polygon points="81.06,288.14 83.76,293 78.36,293" fill="#ff0000"/>
<polygon points="82.7,288.5 85.4,293.36 80,293.36" fill="#ff0000"/>
<polygon points="84.35,288.84 87.05,293.7 81.65,293.7" fill="#ff0000"/>
<polygon points="85.99,289.11 88.69,293.97 83.29,293.97" fill="#ff0000"/>
<polygon points="87.63,289.39 90.33,294.25 84.93,294.25" fill="#ff0000"/>
<polygon points="89.28,289.66 91.98,294.52 86.58,294.52" fill="#ff0000"/>
<polygon points="90.92,289.94 93.62,294.8 88.22,294.8" fill="#ff0000"/>
<polygon points="92.56,290.21 95.26,295.07 89.86,295.07" fill="#ff0000"/>
<polygon points="94.21,290.49 96.91,295.35 91.51,295.35" fill="#ff0000"/>
<polygon points="95.85,290.76 98.55,295.62 93.15,295.62" fill="#ff0000"/>
<polygon points="97.49,291.04 100.19,295.9 94.79,295.9" fill="#ff0000"/>
<polygon points="99.13,291.31 101.83,296.17 96.43,296.17" fill="#ff0000"/>
<polygon points="100.78,291.89 103.48,296.75 98.08,296.75" fill="#ff0000"/>
<polygon points="102.42,292.74 105.12,297.6 99.72,297.6" fill="#ff0000"/>
<polygon points="104.06,293.66 106.76,298.52 101.36,298.52" fill="#ff0000"/>
<polygon points="105.71,295.25 108.41,300.11 103.01,300.11" fill="#ff0000"/>
<polygon points="107.35,297.98 110.05,302.84 104.65,302.84" fill="#ff0000"/>
<polygon points="108.99,304.89 111.69,309.75 106.29,309.75" fill="#ff0000"/>
<polygon points="110.64,313.21 113.34,318.07 107.94,318.07" fill="#ff0000"/>
<polygon points="112.28,321.53 114.98,326.39 109.58,326.39" fill="#ff0000"/>
<polygon points="113.92,329.66 116.62,334.52 111.22,334.52" fill="#ff0000"/>
<polygon points="115.56,337.64 118.26,342.5 112.86,342.5" fill="#ff0000"/>
<polygon points="117.21,345.59 119.91,350.45 114.51,350.45" fill="#ff0000"/>
<polygon points="118.85,351.97 121.55,356.83 116.15,356.83" fill="#ff0000"/>
<polygon points="120.49,355.34 123.19,360.2 117.79,360.2" fill="#ff0000"/>
<polygon points="122.14,358.64 124.84,363.5 119.44,363.5" fill="#ff0000"/>
<polygon points="123.78,361.83 126.48,366.69 121.08,366.69" fill="#ff0000"/>
<polygon points="125.42,364.23 128.12,369.09 122.72,369.09" fill="#ff0000"/>
<polygon points="127.07,366.35 129.77,371.21 124.37,371.21" fill="#ff0000"/>
<polygon points="128.71,367.96 131.41,372.82 126.01,372.82" fill="#ff0000"/>
<polygon points="130.35,369.15 133.05,374.01 127.65,374.01" fill="#ff0000"/>
<polygon points="131.99,370.25 134.69,375.11 129.29,375.11" fill="#ff0000"/>
<polygon points="133.64,371.15 136.34,376.01 130.94,376.01" fill="#ff0000"/>
<polygon points="135.28,372.04 137.98,376.9 132.58,376.9" fill="#ff0000"/>
<polygon points="136.92,372.93 139.62,377.79 134.22,377.79" fill="#ff0000"/>
<line x1="36.7" y1="286.5" x2="36.7" y2="376.8" stroke="#000" stroke-width="1"/>
<line x1="36.7" y1="376.3" x2="160.8" y2="376.3" stroke="#000" stroke-width="1"/>
<line x1="34.7" y1="286.95" x2="36.7" y2="286.95" stroke="#000" stroke-width="1"/>
<text x="31.3" y="289.45" font-size="7.5" font-family='"Liberation Serif", serif' fill="#000" text-anchor="end">100</text>
<line x1="34.7" y1="304.82" x2="36.7" y2="304.82" stroke="#000" stroke-width="1"/>
<text x="31.3" y="307.32" font-size="7.5" font-family='"Liberation Serif", serif' fill="#000" text-anchor="end">80</text>
<line x1="34.7" y1="322.69" x2="36.7" y2="322.69" stroke="#000" stroke-width="1"/>
<text x="31.3" y="325.19" font-size="7.5" font-family='"Liberation Serif", serif' fill="#000" text-anchor="end">60</text>
<line x1="34.7" y1="340.56" x2="36.7" y2="340.56" stroke="#000" stroke-width="1"/>
<text x="31.3" y="343.06" font-size="7.5" font-family='"Liberation Serif", serif' fill="#000" text-anchor="end">40</text>
<line x1="34.7" y1="358.43" x2="36.7" y2="358.43" stroke="#000" stroke-width="1"/>
<text x="31.3" y="360.93" font-size="7.5" font-family='"Liberation Serif", serif' fill="#000" text-anchor="end">20</text>
<line x1="34.7" y1="376.3" x2="36.7" y2="376.3" stroke="#000" stroke-width="1"/>
<text x="31.3" y="378.8" font-size="7.5" font-family='"Liberation Serif", serif' fill="#000" text-anchor="end">0</text>
<line x1="36.7" y1="376.3" x2="36.7" y2="378.3" stroke="#000" stroke-width="1"/>
<text x="37.1" y="386.3" font-size="6.4" font-family='"Liberation Serif", serif' fill="#333" text-anchor="middle">0</text>
<line x1="53.13" y1="376.3" x2="53.13" y2="378.3" stroke="#000" stroke-width="1"/>
<text x="53.53" y="386.3" font-size="6.4" font-family='"Liberation Serif", serif' fill="#333" text-anchor="middle">20</text>
<line x1="69.56" y1="376.3" x2="69.56" y2="378.3" stroke="#000" stroke-width="1"/>
<text x="69.96" y="386.3" font-size="6.4" font-family='"Liberation Serif", serif' fill="#333" text-anchor="middle">30</text>
<line x1="85.99" y1="376.3" x2="85.99" y2="378.3" stroke="#000" stroke-width="1"/>
<text x="86.39" y="386.3" font-size="6.4" font-family='"Liberation Serif", serif' fill="#333" text-anchor="middle">40</text>
<line x1="102.42" y1="376.3" x2="102.42" y2="378.3" stroke="#000" stroke-width="1"/>
<text x="102.82" y="386.3" font-size="6.4" font-family='"Liberation Serif", serif' fill="#333" text-anchor="middle">50</text>
<line x1="118.85" y1="376.3" x2="118.85" y2="378.3" stroke="#000" stroke-width="1"/>
<text x="119.25" y="386.3" font-size="6.4" font-family='"Liberation Serif", serif' fill="#333" text-anchor="middle">60</text>
<line x1="135.28" y1="376.3" x2="135.28" y2="378.3" stroke="#000" stroke-width="1"/>
<text x="135.68" y="386.3" font-size="6.4" font-family='"Liberation Serif", serif' fill="#333" text-anchor="middle">70</text>
<line x1="151.71" y1="376.3" x2="151.71" y2="378.3" stroke="#000" stroke-width="1"/>
<text x="152.11" y="386.3" font-size="6.4" font-family='"Liberation Serif", serif' fill="#333" text-anchor="middle">80</text>
<text x="96.3" y="394.4" font-size="7.15" font-family='"Liberation Serif", serif' fill="#000" text-anchor="middle">Age(day)</text>
<text x="12.5" y="332" font-size="7.5" font-family='"Liberation Serif", serif' fill="#000" text-anchor="middle" transform="rotate(-90 12.5 332)">Percentage of survival(%)</text>
<line x1="97.4" y1="338.3" x2="113.2" y2="338.3" stroke="#000" stroke-width="1"/>
<polygon points="103.1,331.75 103.94,333.34 105.72,333.65 104.46,334.94 104.72,336.72 103.1,335.93 101.48,336.72 101.74,334.94 100.48,333.65 102.26,333.34" fill="#000"/>
<polygon points="108.9,331.75 109.74,333.34 111.52,333.65 110.26,334.94 110.52,336.72 108.9,335.93 107.28,336.72 107.54,334.94 106.28,333.65 108.06,333.34" fill="#000"/>
<line x1="117.4" y1="342.9" x2="125.5" y2="342.9" stroke="#000" stroke-width="1"/>
<polygon points="121.3,336.65 122.14,338.24 123.92,338.55 122.66,339.84 122.92,341.62 121.3,340.83 119.68,341.62 119.94,339.84 118.68,338.55 120.46,338.24" fill="#000"/>
<rect x="126.8" y="287.5" width="111.4" height="33.2" fill="#fff" stroke="#555" stroke-width="0.8"/>
<line x1="128.8" y1="292.1" x2="140.8" y2="292.1" stroke="#17b0ee" stroke-width="1.1"/>
<polygon points="134.8,289.8 137.1,292.1 134.8,294.4 132.5,292.1" fill="#17b0ee"/>
<text x="143.4" y="294.7" font-size="7.65" font-family='"Liberation Serif", serif' fill="#000">dFOXO-control</text>
<line x1="128.8" y1="299.8" x2="140.8" y2="299.8" stroke="#7030a0" stroke-width="1.1"/>
<polygon points="134.8,297.5 137.1,299.8 134.8,302.1 132.5,299.8" fill="#7030a0"/>
<text x="143.4" y="302.4" font-size="7.65" font-family='"Liberation Serif", serif' fill="#000">dFOXO-control+HSD</text>
<line x1="128.8" y1="307.5" x2="140.8" y2="307.5" stroke="#92d050" stroke-width="1.1"/>
<polygon points="134.8,305.08 137.1,309.23 132.5,309.23" fill="#92d050"/>
<text x="143.4" y="310.1" font-size="7.65" font-family='"Liberation Serif", serif' fill="#000">dFOXO-overexpression</text>
<line x1="128.8" y1="315.2" x2="140.8" y2="315.2" stroke="#ff0000" stroke-width="1.1"/>
<polygon points="134.8,312.79 137.1,316.93 132.5,316.93" fill="#ff0000"/>
<text x="143.4" y="317.8" font-size="7.65" font-family='"Liberation Serif", serif' fill="#000">dFOXO-overexpression+HSD</text>
<text x="280.4" y="281" font-size="10.6" font-family='"Liberation Serif", serif' fill="#000" font-weight="bold">G</text>
<line x1="349.8" y1="282.4" x2="349.8" y2="375.6" stroke="#303030" stroke-width="1"/>
<line x1="349.8" y1="375.2" x2="456" y2="375.2" stroke="#303030" stroke-width="1"/>
<line x1="347.8" y1="282.4" x2="349.8" y2="282.4" stroke="#303030" stroke-width="1"/>
<line x1="347.8" y1="375.2" x2="349.8" y2="375.2" stroke="#303030" stroke-width="1"/>
<line x1="349.8" y1="375.2" x2="349.8" y2="377.2" stroke="#303030" stroke-width="1"/>
<text x="349.8" y="386.6" font-size="7.5" font-family='"Liberation Serif", serif' fill="#000" text-anchor="middle">0</text>
<line x1="376.25" y1="375.2" x2="376.25" y2="377.2" stroke="#303030" stroke-width="1"/>
<text x="376.25" y="386.6" font-size="7.5" font-family='"Liberation Serif", serif' fill="#000" text-anchor="middle">20</text>
<line x1="402.7" y1="375.2" x2="402.7" y2="377.2" stroke="#303030" stroke-width="1"/>
<text x="402.7" y="386.6" font-size="7.5" font-family='"Liberation Serif", serif' fill="#000" text-anchor="middle">40</text>
<line x1="429.15" y1="375.2" x2="429.15" y2="377.2" stroke="#303030" stroke-width="1"/>
<text x="429.15" y="386.6" font-size="7.5" font-family='"Liberation Serif", serif' fill="#000" text-anchor="middle">60</text>
<line x1="455.6" y1="375.2" x2="455.6" y2="377.2" stroke="#303030" stroke-width="1"/>
<text x="455.6" y="386.6" font-size="7.5" font-family='"Liberation Serif", serif' fill="#000" text-anchor="middle">80</text>
<text x="407" y="394.6" font-size="7.5" font-family='"Liberation Serif", serif' fill="#000" text-anchor="middle">Average lifespan(day)</text>
<rect x="349.8" y="292.6" width="81.2" height="14" fill="#000000" stroke="#222" stroke-width="0.6"/>
<line x1="429.02" y1="299.6" x2="432.99" y2="299.6" stroke="#333" stroke-width="0.8"/>
<line x1="429.02" y1="298.4" x2="429.02" y2="300.8" stroke="#333" stroke-width="0.8"/>
<line x1="432.99" y1="298.4" x2="432.99" y2="300.8" stroke="#333" stroke-width="0.8"/>
<text x="346.8" y="302.1" font-size="7.5" font-family='"Liberation Serif", serif' fill="#000" text-anchor="end">dFOXO-overexpression+ HSD</text>
<rect x="349.8" y="312.3" width="96.01" height="14" fill="#b5e61d" stroke="#222" stroke-width="0.6"/>
<line x1="443.04" y1="319.3" x2="448.59" y2="319.3" stroke="#333" stroke-width="0.8"/>
<line x1="443.04" y1="318.1" x2="443.04" y2="320.5" stroke="#333" stroke-width="0.8"/>
<line x1="448.59" y1="318.1" x2="448.59" y2="320.5" stroke="#333" stroke-width="0.8"/>
<text x="346.8" y="321.8" font-size="7.5" font-family='"Liberation Serif", serif' fill="#000" text-anchor="end">dFOXO-overexpression</text>
<rect x="349.8" y="331.4" width="64.01" height="14" fill="#8000ff" stroke="#222" stroke-width="0.6"/>
<line x1="411.43" y1="338.4" x2="416.19" y2="338.4" stroke="#333" stroke-width="0.8"/>
<line x1="411.43" y1="337.2" x2="411.43" y2="339.6" stroke="#333" stroke-width="0.8"/>
<line x1="416.19" y1="337.2" x2="416.19" y2="339.6" stroke="#333" stroke-width="0.8"/>
<text x="346.8" y="340.9" font-size="7.5" font-family='"Liberation Serif", serif' fill="#000" text-anchor="end">dFOXO-control+ HSD</text>
<rect x="349.8" y="350.5" width="84.51" height="14" fill="#1ba1e2" stroke="#222" stroke-width="0.6"/>
<line x1="431.73" y1="357.5" x2="436.89" y2="357.5" stroke="#333" stroke-width="0.8"/>
<line x1="431.73" y1="356.3" x2="431.73" y2="358.7" stroke="#333" stroke-width="0.8"/>
<line x1="436.89" y1="356.3" x2="436.89" y2="358.7" stroke="#333" stroke-width="0.8"/>
<text x="346.8" y="360" font-size="7.5" font-family='"Liberation Serif", serif' fill="#000" text-anchor="end">dFOXO-control</text>
<text x="11" y="431.9" font-size="10.6" font-family='"Liberation Serif", serif' fill="#000" font-weight="bold">H</text>
<line x1="47.1" y1="433.9" x2="47.1" y2="541.6" stroke="#202020" stroke-width="1"/>
<line x1="47.1" y1="541.1" x2="104.5" y2="541.1" stroke="#202020" stroke-width="1"/>
<line x1="45.1" y1="541.1" x2="47.1" y2="541.1" stroke="#202020" stroke-width="1"/>
<text x="39.7" y="544.3" font-size="7.3" font-family='"Liberation Serif", serif' fill="#3a3a3a" text-anchor="end" letter-spacing="0.3">0.00</text>
<line x1="45.1" y1="525.79" x2="47.1" y2="525.79" stroke="#202020" stroke-width="1"/>
<text x="39.7" y="528.99" font-size="7.3" font-family='"Liberation Serif", serif' fill="#3a3a3a" text-anchor="end" letter-spacing="0.3">0.50</text>
<line x1="45.1" y1="510.47" x2="47.1" y2="510.47" stroke="#202020" stroke-width="1"/>
<text x="39.7" y="513.67" font-size="7.3" font-family='"Liberation Serif", serif' fill="#3a3a3a" text-anchor="end" letter-spacing="0.3">1.00</text>
<line x1="45.1" y1="495.16" x2="47.1" y2="495.16" stroke="#202020" stroke-width="1"/>
<text x="39.7" y="498.36" font-size="7.3" font-family='"Liberation Serif", serif' fill="#3a3a3a" text-anchor="end" letter-spacing="0.3">1.50</text>
<line x1="45.1" y1="479.84" x2="47.1" y2="479.84" stroke="#202020" stroke-width="1"/>
<text x="39.7" y="483.04" font-size="7.3" font-family='"Liberation Serif", serif' fill="#3a3a3a" text-anchor="end" letter-spacing="0.3">2.00</text>
<line x1="45.1" y1="464.53" x2="47.1" y2="464.53" stroke="#202020" stroke-width="1"/>
<text x="39.7" y="467.73" font-size="7.3" font-family='"Liberation Serif", serif' fill="#3a3a3a" text-anchor="end" letter-spacing="0.3">2.50</text>
<line x1="45.1" y1="449.21" x2="47.1" y2="449.21" stroke="#202020" stroke-width="1"/>
<text x="39.7" y="452.41" font-size="7.3" font-family='"Liberation Serif", serif' fill="#3a3a3a" text-anchor="end" letter-spacing="0.3">3.00</text>
<line x1="45.1" y1="433.9" x2="47.1" y2="433.9" stroke="#202020" stroke-width="1"/>
<text x="39.7" y="437.1" font-size="7.3" font-family='"Liberation Serif", serif' fill="#3a3a3a" text-anchor="end" letter-spacing="0.3">3.50</text>
<rect x="55.6" y="510.47" width="10.3" height="30.63" fill="#1ba1e2" stroke="#333" stroke-width="0.5"/>
<rect x="65.9" y="453.5" width="10.3" height="87.6" fill="#8000ff" stroke="#333" stroke-width="0.5"/>
<line x1="71.05" y1="451.66" x2="71.05" y2="455.34" stroke="#333" stroke-width="0.8"/>
<line x1="69.85" y1="451.66" x2="72.25" y2="451.66" stroke="#333" stroke-width="0.8"/>
<line x1="69.85" y1="455.34" x2="72.25" y2="455.34" stroke="#333" stroke-width="0.8"/>
<rect x="76.2" y="511.39" width="10.3" height="29.71" fill="#b5e61d" stroke="#333" stroke-width="0.5"/>
<line x1="81.35" y1="509.86" x2="81.35" y2="512.92" stroke="#333" stroke-width="0.8"/>
<line x1="80.15" y1="509.86" x2="82.55" y2="509.86" stroke="#333" stroke-width="0.8"/>
<line x1="80.15" y1="512.92" x2="82.55" y2="512.92" stroke="#333" stroke-width="0.8"/>
<rect x="86.5" y="455.03" width="10.3" height="86.07" fill="#000000" stroke="#333" stroke-width="0.5"/>
<line x1="91.65" y1="452.58" x2="91.65" y2="457.48" stroke="#333" stroke-width="0.8"/>
<line x1="90.45" y1="452.58" x2="92.85" y2="452.58" stroke="#333" stroke-width="0.8"/>
<line x1="90.45" y1="457.48" x2="92.85" y2="457.48" stroke="#333" stroke-width="0.8"/>
<line x1="60.75" y1="446.7" x2="71.05" y2="446.7" stroke="#000" stroke-width="1"/>
<line x1="60.75" y1="446.7" x2="60.75" y2="448.5" stroke="#000" stroke-width="1"/>
<line x1="71.05" y1="446.7" x2="71.05" y2="448.5" stroke="#000" stroke-width="1"/>
<polygon points="63.4,439.85 64.24,441.44 66.02,441.75 64.76,443.04 65.02,444.82 63.4,444.03 61.78,444.82 62.04,443.04 60.78,441.75 62.56,441.44" fill="#000"/>
<polygon points="69.4,439.85 70.24,441.44 72.02,441.75 70.76,443.04 71.02,444.82 69.4,444.03 67.78,444.82 68.04,443.04 66.78,441.75 68.56,441.44" fill="#000"/>
<line x1="81.35" y1="446.7" x2="91.65" y2="446.7" stroke="#000" stroke-width="1"/>
<line x1="81.35" y1="446.7" x2="81.35" y2="448.5" stroke="#000" stroke-width="1"/>
<line x1="91.65" y1="446.7" x2="91.65" y2="448.5" stroke="#000" stroke-width="1"/>
<polygon points="84,439.85 84.84,441.44 86.62,441.75 85.36,443.04 85.62,444.82 84,444.03 82.38,444.82 82.64,443.04 81.38,441.75 83.16,441.44" fill="#000"/>
<polygon points="90,439.85 90.84,441.44 92.62,441.75 91.36,443.04 91.62,444.82 90,444.03 88.38,444.82 88.64,443.04 87.38,441.75 89.16,441.44" fill="#000"/>
<line x1="60.75" y1="436.6" x2="81.35" y2="436.6" stroke="#000" stroke-width="1"/>
<line x1="60.75" y1="436.6" x2="60.75" y2="438.4" stroke="#000" stroke-width="1"/>
<line x1="81.35" y1="436.6" x2="81.35" y2="438.4" stroke="#000" stroke-width="1"/>
<text x="72.65" y="434.8" font-size="7.6" font-family='"Liberation Sans", sans-serif' fill="#000" text-anchor="middle">ns</text>
<line x1="73.05" y1="425.8" x2="93.65" y2="425.8" stroke="#000" stroke-width="1"/>
<line x1="73.05" y1="425.8" x2="73.05" y2="427.6" stroke="#000" stroke-width="1"/>
<line x1="93.65" y1="425.8" x2="93.65" y2="427.6" stroke="#000" stroke-width="1"/>
<text x="84.95" y="424" font-size="7.6" font-family='"Liberation Sans", sans-serif' fill="#000" text-anchor="middle">ns</text>
<text x="20.7" y="486" font-size="9.7" font-family='"Liberation Serif", serif' text-anchor="middle" transform="rotate(-90 20.7 486)">Relative <tspan font-style="italic">salt</tspan> expression</text>
<text x="127.4" y="433.8" font-size="10.6" font-family='"Liberation Serif", serif' fill="#000" font-weight="bold">I</text>
<line x1="162.5" y1="437.2" x2="162.5" y2="543.8" stroke="#202020" stroke-width="1"/>
<line x1="162.5" y1="543.3" x2="214.5" y2="543.3" stroke="#202020" stroke-width="1"/>
<line x1="160.5" y1="543.3" x2="162.5" y2="543.3" stroke="#202020" stroke-width="1"/>
<text x="155.2" y="546.5" font-size="7.3" font-family='"Liberation Serif", serif' fill="#3a3a3a" text-anchor="end" letter-spacing="0.3">0.00</text>
<line x1="160.5" y1="516.77" x2="162.5" y2="516.77" stroke="#202020" stroke-width="1"/>
<text x="155.2" y="519.98" font-size="7.3" font-family='"Liberation Serif", serif' fill="#3a3a3a" text-anchor="end" letter-spacing="0.3">0.50</text>
<line x1="160.5" y1="490.25" x2="162.5" y2="490.25" stroke="#202020" stroke-width="1"/>
<text x="155.2" y="493.45" font-size="7.3" font-family='"Liberation Serif", serif' fill="#3a3a3a" text-anchor="end" letter-spacing="0.3">1.00</text>
<line x1="160.5" y1="463.72" x2="162.5" y2="463.72" stroke="#202020" stroke-width="1"/>
<text x="155.2" y="466.92" font-size="7.3" font-family='"Liberation Serif", serif' fill="#3a3a3a" text-anchor="end" letter-spacing="0.3">1.50</text>
<line x1="160.5" y1="437.2" x2="162.5" y2="437.2" stroke="#202020" stroke-width="1"/>
<text x="155.2" y="440.4" font-size="7.3" font-family='"Liberation Serif", serif' fill="#3a3a3a" text-anchor="end" letter-spacing="0.3">2.00</text>
<rect x="170.2" y="490.25" width="10.5" height="53.05" fill="#1ba1e2" stroke="#333" stroke-width="0.5"/>
<rect x="180.7" y="528.98" width="10.5" height="14.32" fill="#8000ff" stroke="#333" stroke-width="0.5"/>
<line x1="185.95" y1="526.32" x2="185.95" y2="531.63" stroke="#333" stroke-width="0.8"/>
<line x1="184.75" y1="526.32" x2="187.15" y2="526.32" stroke="#333" stroke-width="0.8"/>
<line x1="184.75" y1="531.63" x2="187.15" y2="531.63" stroke="#333" stroke-width="0.8"/>
<rect x="191.2" y="455.77" width="10.5" height="87.53" fill="#b5e61d" stroke="#333" stroke-width="0.5"/>
<line x1="196.45" y1="451.52" x2="196.45" y2="460.01" stroke="#333" stroke-width="0.8"/>
<line x1="195.25" y1="451.52" x2="197.65" y2="451.52" stroke="#333" stroke-width="0.8"/>
<line x1="195.25" y1="460.01" x2="197.65" y2="460.01" stroke="#333" stroke-width="0.8"/>
<rect x="201.7" y="457.36" width="10.5" height="85.94" fill="#000000" stroke="#333" stroke-width="0.5"/>
<line x1="206.95" y1="454.18" x2="206.95" y2="460.54" stroke="#333" stroke-width="0.8"/>
<line x1="205.75" y1="454.18" x2="208.15" y2="454.18" stroke="#333" stroke-width="0.8"/>
<line x1="205.75" y1="460.54" x2="208.15" y2="460.54" stroke="#333" stroke-width="0.8"/>
<line x1="175.45" y1="447.5" x2="185.95" y2="447.5" stroke="#000" stroke-width="1"/>
<line x1="175.45" y1="447.5" x2="175.45" y2="449.3" stroke="#000" stroke-width="1"/>
<line x1="185.95" y1="447.5" x2="185.95" y2="449.3" stroke="#000" stroke-width="1"/>
<polygon points="178.2,440.65 179.04,442.24 180.82,442.55 179.56,443.84 179.82,445.62 178.2,444.83 176.58,445.62 176.84,443.84 175.58,442.55 177.36,442.24" fill="#000"/>
<polygon points="184.2,440.65 185.04,442.24 186.82,442.55 185.56,443.84 185.82,445.62 184.2,444.83 182.58,445.62 182.84,443.84 181.58,442.55 183.36,442.24" fill="#000"/>
<line x1="196.45" y1="447.5" x2="206.95" y2="447.5" stroke="#000" stroke-width="1"/>
<line x1="196.45" y1="447.5" x2="196.45" y2="449.3" stroke="#000" stroke-width="1"/>
<line x1="206.95" y1="447.5" x2="206.95" y2="449.3" stroke="#000" stroke-width="1"/>
<text x="203.3" y="445.7" font-size="7.6" font-family='"Liberation Sans", sans-serif' fill="#000" text-anchor="middle">ns</text>
<line x1="175.45" y1="436.6" x2="196.45" y2="436.6" stroke="#000" stroke-width="1"/>
<line x1="175.45" y1="436.6" x2="175.45" y2="438.4" stroke="#000" stroke-width="1"/>
<line x1="196.45" y1="436.6" x2="196.45" y2="438.4" stroke="#000" stroke-width="1"/>
<polygon points="183.45,429.75 184.29,431.34 186.07,431.65 184.81,432.94 185.07,434.72 183.45,433.93 181.83,434.72 182.09,432.94 180.83,431.65 182.61,431.34" fill="#000"/>
<polygon points="189.45,429.75 190.29,431.34 192.07,431.65 190.81,432.94 191.07,434.72 189.45,433.93 187.83,434.72 188.09,432.94 186.83,431.65 188.61,431.34" fill="#000"/>
<line x1="185.95" y1="426.3" x2="206.95" y2="426.3" stroke="#000" stroke-width="1"/>
<line x1="185.95" y1="426.3" x2="185.95" y2="428.1" stroke="#000" stroke-width="1"/>
<line x1="206.95" y1="426.3" x2="206.95" y2="428.1" stroke="#000" stroke-width="1"/>
<polygon points="193.95,419.45 194.79,421.04 196.57,421.35 195.31,422.64 195.57,424.42 193.95,423.63 192.33,424.42 192.59,422.64 191.33,421.35 193.11,421.04" fill="#000"/>
<polygon points="199.95,419.45 200.79,421.04 202.57,421.35 201.31,422.64 201.57,424.42 199.95,423.63 198.33,424.42 198.59,422.64 197.33,421.35 199.11,421.04" fill="#000"/>
<text x="135.6" y="490.9" font-size="9.4" font-family='"Liberation Serif", serif' text-anchor="middle" transform="rotate(-90 135.6 490.9)">Relative <tspan font-style="italic">dFOXO</tspan> expression</text>
<text x="235.5" y="435" font-size="10.6" font-family='"Liberation Serif", serif' fill="#000" font-weight="bold">J</text>
<line x1="273" y1="436.6" x2="273" y2="543.5" stroke="#202020" stroke-width="1"/>
<line x1="273" y1="543" x2="325" y2="543" stroke="#202020" stroke-width="1"/>
<line x1="271" y1="543" x2="273" y2="543" stroke="#202020" stroke-width="1"/>
<text x="266.7" y="546.2" font-size="7.3" font-family='"Liberation Serif", serif' fill="#3a3a3a" text-anchor="end" letter-spacing="0.3">0.00</text>
<line x1="271" y1="527.8" x2="273" y2="527.8" stroke="#202020" stroke-width="1"/>
<text x="266.7" y="531" font-size="7.3" font-family='"Liberation Serif", serif' fill="#3a3a3a" text-anchor="end" letter-spacing="0.3">10.00</text>
<line x1="271" y1="512.6" x2="273" y2="512.6" stroke="#202020" stroke-width="1"/>
<text x="266.7" y="515.8" font-size="7.3" font-family='"Liberation Serif", serif' fill="#3a3a3a" text-anchor="end" letter-spacing="0.3">20.00</text>
<line x1="271" y1="497.4" x2="273" y2="497.4" stroke="#202020" stroke-width="1"/>
<text x="266.7" y="500.6" font-size="7.3" font-family='"Liberation Serif", serif' fill="#3a3a3a" text-anchor="end" letter-spacing="0.3">30.00</text>
<line x1="271" y1="482.2" x2="273" y2="482.2" stroke="#202020" stroke-width="1"/>
<text x="266.7" y="485.4" font-size="7.3" font-family='"Liberation Serif", serif' fill="#3a3a3a" text-anchor="end" letter-spacing="0.3">40.00</text>
<line x1="271" y1="467" x2="273" y2="467" stroke="#202020" stroke-width="1"/>
<text x="266.7" y="470.2" font-size="7.3" font-family='"Liberation Serif", serif' fill="#3a3a3a" text-anchor="end" letter-spacing="0.3">50.00</text>
<line x1="271" y1="451.8" x2="273" y2="451.8" stroke="#202020" stroke-width="1"/>
<text x="266.7" y="455" font-size="7.3" font-family='"Liberation Serif", serif' fill="#3a3a3a" text-anchor="end" letter-spacing="0.3">60.00</text>
<line x1="271" y1="436.6" x2="273" y2="436.6" stroke="#202020" stroke-width="1"/>
<text x="266.7" y="439.8" font-size="7.3" font-family='"Liberation Serif", serif' fill="#3a3a3a" text-anchor="end" letter-spacing="0.3">70.00</text>
<rect x="281" y="480.07" width="9.8" height="62.93" fill="#1ba1e2" stroke="#333" stroke-width="0.5"/>
<line x1="285.9" y1="475.21" x2="285.9" y2="484.94" stroke="#333" stroke-width="0.8"/>
<line x1="284.7" y1="475.21" x2="287.1" y2="475.21" stroke="#333" stroke-width="0.8"/>
<line x1="284.7" y1="484.94" x2="287.1" y2="484.94" stroke="#333" stroke-width="0.8"/>
<rect x="290.8" y="514.42" width="9.8" height="28.58" fill="#8000ff" stroke="#333" stroke-width="0.5"/>
<line x1="295.7" y1="511.08" x2="295.7" y2="517.77" stroke="#333" stroke-width="0.8"/>
<line x1="294.5" y1="511.08" x2="296.9" y2="511.08" stroke="#333" stroke-width="0.8"/>
<line x1="294.5" y1="517.77" x2="296.9" y2="517.77" stroke="#333" stroke-width="0.8"/>
<rect x="300.6" y="449.82" width="9.8" height="93.18" fill="#b5e61d" stroke="#333" stroke-width="0.5"/>
<line x1="305.5" y1="444.35" x2="305.5" y2="455.3" stroke="#333" stroke-width="0.8"/>
<line x1="304.3" y1="444.35" x2="306.7" y2="444.35" stroke="#333" stroke-width="0.8"/>
<line x1="304.3" y1="455.3" x2="306.7" y2="455.3" stroke="#333" stroke-width="0.8"/>
<rect x="310.4" y="490.1" width="9.8" height="52.9" fill="#000000" stroke="#333" stroke-width="0.5"/>
<line x1="315.3" y1="485.54" x2="315.3" y2="494.66" stroke="#333" stroke-width="0.8"/>
<line x1="314.1" y1="485.54" x2="316.5" y2="485.54" stroke="#333" stroke-width="0.8"/>
<line x1="314.1" y1="494.66" x2="316.5" y2="494.66" stroke="#333" stroke-width="0.8"/>
<line x1="285.9" y1="441.2" x2="295.7" y2="441.2" stroke="#000" stroke-width="1"/>
<line x1="285.9" y1="441.2" x2="285.9" y2="443" stroke="#000" stroke-width="1"/>
<line x1="295.7" y1="441.2" x2="295.7" y2="443" stroke="#000" stroke-width="1"/>
<polygon points="288.3,434.35 289.14,435.94 290.92,436.25 289.66,437.54 289.92,439.32 288.3,438.53 286.68,439.32 286.94,437.54 285.68,436.25 287.46,435.94" fill="#000"/>
<polygon points="294.3,434.35 295.14,435.94 296.92,436.25 295.66,437.54 295.92,439.32 294.3,438.53 292.68,439.32 292.94,437.54 291.68,436.25 293.46,435.94" fill="#000"/>
<line x1="305.5" y1="441.2" x2="315.3" y2="441.2" stroke="#000" stroke-width="1"/>
<line x1="305.5" y1="441.2" x2="305.5" y2="443" stroke="#000" stroke-width="1"/>
<line x1="315.3" y1="441.2" x2="315.3" y2="443" stroke="#000" stroke-width="1"/>
<polygon points="307.9,434.35 308.74,435.94 310.52,436.25 309.26,437.54 309.52,439.32 307.9,438.53 306.28,439.32 306.54,437.54 305.28,436.25 307.06,435.94" fill="#000"/>
<polygon points="313.9,434.35 314.74,435.94 316.52,436.25 315.26,437.54 315.52,439.32 313.9,438.53 312.28,439.32 312.54,437.54 311.28,436.25 313.06,435.94" fill="#000"/>
<line x1="285.9" y1="429.9" x2="305.5" y2="429.9" stroke="#000" stroke-width="1"/>
<line x1="285.9" y1="429.9" x2="285.9" y2="431.7" stroke="#000" stroke-width="1"/>
<line x1="305.5" y1="429.9" x2="305.5" y2="431.7" stroke="#000" stroke-width="1"/>
<polygon points="293.2,423.05 294.04,424.64 295.82,424.95 294.56,426.24 294.82,428.02 293.2,427.23 291.58,428.02 291.84,426.24 290.58,424.95 292.36,424.64" fill="#000"/>
<polygon points="299.2,423.05 300.04,424.64 301.82,424.95 300.56,426.24 300.82,428.02 299.2,427.23 297.58,428.02 297.84,426.24 296.58,424.95 298.36,424.64" fill="#000"/>
<line x1="295.7" y1="420.4" x2="315.3" y2="420.4" stroke="#000" stroke-width="1"/>
<line x1="295.7" y1="420.4" x2="295.7" y2="422.2" stroke="#000" stroke-width="1"/>
<line x1="315.3" y1="420.4" x2="315.3" y2="422.2" stroke="#000" stroke-width="1"/>
<polygon points="303,413.55 303.84,415.14 305.62,415.45 304.36,416.74 304.62,418.52 303,417.73 301.38,418.52 301.64,416.74 300.38,415.45 302.16,415.14" fill="#000"/>
<polygon points="309,413.55 309.84,415.14 311.62,415.45 310.36,416.74 310.62,418.52 309,417.73 307.38,418.52 307.64,416.74 306.38,415.45 308.16,415.14" fill="#000"/>
<text x="242.9" y="490.6" font-size="9.5" font-family='"Liberation Serif", serif' text-anchor="middle" transform="rotate(-90 242.9 490.6)">SOD activity level(U/mL)</text>
<text x="343.5" y="435.5" font-size="10.6" font-family='"Liberation Serif", serif' fill="#000" font-weight="bold">K</text>
<line x1="379.5" y1="436.6" x2="379.5" y2="544" stroke="#202020" stroke-width="1"/>
<line x1="379.5" y1="543.5" x2="436.3" y2="543.5" stroke="#202020" stroke-width="1"/>
<line x1="377.5" y1="543.5" x2="379.5" y2="543.5" stroke="#202020" stroke-width="1"/>
<text x="372.5" y="546.7" font-size="7.3" font-family='"Liberation Serif", serif' fill="#3a3a3a" text-anchor="end" letter-spacing="0.3">0.00</text>
<line x1="377.5" y1="530.14" x2="379.5" y2="530.14" stroke="#202020" stroke-width="1"/>
<text x="372.5" y="533.34" font-size="7.3" font-family='"Liberation Serif", serif' fill="#3a3a3a" text-anchor="end" letter-spacing="0.3">0.50</text>
<line x1="377.5" y1="516.77" x2="379.5" y2="516.77" stroke="#202020" stroke-width="1"/>
<text x="372.5" y="519.98" font-size="7.3" font-family='"Liberation Serif", serif' fill="#3a3a3a" text-anchor="end" letter-spacing="0.3">1.00</text>
<line x1="377.5" y1="503.41" x2="379.5" y2="503.41" stroke="#202020" stroke-width="1"/>
<text x="372.5" y="506.61" font-size="7.3" font-family='"Liberation Serif", serif' fill="#3a3a3a" text-anchor="end" letter-spacing="0.3">1.50</text>
<line x1="377.5" y1="490.05" x2="379.5" y2="490.05" stroke="#202020" stroke-width="1"/>
<text x="372.5" y="493.25" font-size="7.3" font-family='"Liberation Serif", serif' fill="#3a3a3a" text-anchor="end" letter-spacing="0.3">2.00</text>
<line x1="377.5" y1="476.69" x2="379.5" y2="476.69" stroke="#202020" stroke-width="1"/>
<text x="372.5" y="479.89" font-size="7.3" font-family='"Liberation Serif", serif' fill="#3a3a3a" text-anchor="end" letter-spacing="0.3">2.50</text>
<line x1="377.5" y1="463.33" x2="379.5" y2="463.33" stroke="#202020" stroke-width="1"/>
<text x="372.5" y="466.53" font-size="7.3" font-family='"Liberation Serif", serif' fill="#3a3a3a" text-anchor="end" letter-spacing="0.3">3.00</text>
<line x1="377.5" y1="449.96" x2="379.5" y2="449.96" stroke="#202020" stroke-width="1"/>
<text x="372.5" y="453.16" font-size="7.3" font-family='"Liberation Serif", serif' fill="#3a3a3a" text-anchor="end" letter-spacing="0.3">3.50</text>
<line x1="377.5" y1="436.6" x2="379.5" y2="436.6" stroke="#202020" stroke-width="1"/>
<text x="372.5" y="439.8" font-size="7.3" font-family='"Liberation Serif", serif' fill="#3a3a3a" text-anchor="end" letter-spacing="0.3">4.00</text>
<rect x="387.4" y="479.09" width="10.5" height="64.41" fill="#1ba1e2" stroke="#333" stroke-width="0.5"/>
<line x1="392.65" y1="475.89" x2="392.65" y2="482.3" stroke="#333" stroke-width="0.8"/>
<line x1="391.45" y1="475.89" x2="393.85" y2="475.89" stroke="#333" stroke-width="0.8"/>
<line x1="391.45" y1="482.3" x2="393.85" y2="482.3" stroke="#333" stroke-width="0.8"/>
<rect x="397.9" y="450.76" width="10.5" height="92.74" fill="#8000ff" stroke="#333" stroke-width="0.5"/>
<line x1="403.15" y1="446.22" x2="403.15" y2="455.31" stroke="#333" stroke-width="0.8"/>
<line x1="401.95" y1="446.22" x2="404.35" y2="446.22" stroke="#333" stroke-width="0.8"/>
<line x1="401.95" y1="455.31" x2="404.35" y2="455.31" stroke="#333" stroke-width="0.8"/>
<rect x="408.4" y="493.79" width="10.5" height="49.71" fill="#b5e61d" stroke="#333" stroke-width="0.5"/>
<line x1="413.65" y1="489.78" x2="413.65" y2="497.8" stroke="#333" stroke-width="0.8"/>
<line x1="412.45" y1="489.78" x2="414.85" y2="489.78" stroke="#333" stroke-width="0.8"/>
<line x1="412.45" y1="497.8" x2="414.85" y2="497.8" stroke="#333" stroke-width="0.8"/>
<rect x="418.9" y="472.95" width="10.5" height="70.55" fill="#000000" stroke="#333" stroke-width="0.5"/>
<line x1="424.15" y1="468.4" x2="424.15" y2="477.49" stroke="#333" stroke-width="0.8"/>
<line x1="422.95" y1="468.4" x2="425.35" y2="468.4" stroke="#333" stroke-width="0.8"/>
<line x1="422.95" y1="477.49" x2="425.35" y2="477.49" stroke="#333" stroke-width="0.8"/>
<line x1="392.65" y1="442" x2="403.15" y2="442" stroke="#000" stroke-width="1"/>
<line x1="392.65" y1="442" x2="392.65" y2="443.8" stroke="#000" stroke-width="1"/>
<line x1="403.15" y1="442" x2="403.15" y2="443.8" stroke="#000" stroke-width="1"/>
<polygon points="395.4,435.15 396.24,436.74 398.02,437.05 396.76,438.34 397.02,440.12 395.4,439.33 393.78,440.12 394.04,438.34 392.78,437.05 394.56,436.74" fill="#000"/>
<polygon points="401.4,435.15 402.24,436.74 404.02,437.05 402.76,438.34 403.02,440.12 401.4,439.33 399.78,440.12 400.04,438.34 398.78,437.05 400.56,436.74" fill="#000"/>
<line x1="413.65" y1="442" x2="424.15" y2="442" stroke="#000" stroke-width="1"/>
<line x1="413.65" y1="442" x2="413.65" y2="443.8" stroke="#000" stroke-width="1"/>
<line x1="424.15" y1="442" x2="424.15" y2="443.8" stroke="#000" stroke-width="1"/>
<polygon points="416.4,435.15 417.24,436.74 419.02,437.05 417.76,438.34 418.02,440.12 416.4,439.33 414.78,440.12 415.04,438.34 413.78,437.05 415.56,436.74" fill="#000"/>
<polygon points="422.4,435.15 423.24,436.74 425.02,437.05 423.76,438.34 424.02,440.12 422.4,439.33 420.78,440.12 421.04,438.34 419.78,437.05 421.56,436.74" fill="#000"/>
<line x1="392.65" y1="432" x2="413.65" y2="432" stroke="#000" stroke-width="1"/>
<line x1="392.65" y1="432" x2="392.65" y2="433.8" stroke="#000" stroke-width="1"/>
<line x1="413.65" y1="432" x2="413.65" y2="433.8" stroke="#000" stroke-width="1"/>
<polygon points="400.65,425.15 401.49,426.74 403.27,427.05 402.01,428.34 402.27,430.12 400.65,429.33 399.03,430.12 399.29,428.34 398.03,427.05 399.81,426.74" fill="#000"/>
<polygon points="406.65,425.15 407.49,426.74 409.27,427.05 408.01,428.34 408.27,430.12 406.65,429.33 405.03,430.12 405.29,428.34 404.03,427.05 405.81,426.74" fill="#000"/>
<line x1="403.15" y1="422.3" x2="424.15" y2="422.3" stroke="#000" stroke-width="1"/>
<line x1="403.15" y1="422.3" x2="403.15" y2="424.1" stroke="#000" stroke-width="1"/>
<line x1="424.15" y1="422.3" x2="424.15" y2="424.1" stroke="#000" stroke-width="1"/>
<polygon points="411.15,415.45 411.99,417.04 413.77,417.35 412.51,418.64 412.77,420.42 411.15,419.63 409.53,420.42 409.79,418.64 408.53,417.35 410.31,417.04" fill="#000"/>
<polygon points="417.15,415.45 417.99,417.04 419.77,417.35 418.51,418.64 418.77,420.42 417.15,419.63 415.53,420.42 415.79,418.64 414.53,417.35 416.31,417.04" fill="#000"/>
<text x="353.4" y="489.5" font-size="9.4" font-family='"Liberation Serif", serif' text-anchor="middle" transform="rotate(-90 353.4 489.5)">MDA level(nmol/L)</text>
<rect x="181.3" y="383" width="106.2" height="32.5" fill="#fff" stroke="#555" stroke-width="0.8"/>
<rect x="183.8" y="385.4" width="5.6" height="5.2" fill="#1ba1e2" stroke="#333" stroke-width="0.4"/>
<text x="192" y="390.5" font-size="7.5" font-family='"Liberation Serif", serif' fill="#000">dFOXO-control</text>
<rect x="183.8" y="392.9" width="5.6" height="5.2" fill="#8000ff" stroke="#333" stroke-width="0.4"/>
<text x="192" y="398" font-size="7.5" font-family='"Liberation Serif", serif' fill="#000">dFOXO-control+ HSD</text>
<rect x="183.8" y="400.4" width="5.6" height="5.2" fill="#b5e61d" stroke="#333" stroke-width="0.4"/>
<text x="192" y="405.5" font-size="7.5" font-family='"Liberation Serif", serif' fill="#000">dFOXO-overexpression</text>
<rect x="183.8" y="407.9" width="5.6" height="5.2" fill="#000000" stroke="#333" stroke-width="0.4"/>
<text x="192" y="413" font-size="7.5" font-family='"Liberation Serif", serif' fill="#000">dFOXO-overexpression+ HSD</text>
</svg>
</body></html>
